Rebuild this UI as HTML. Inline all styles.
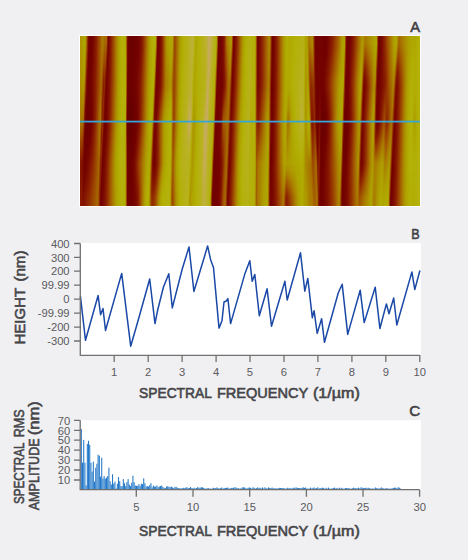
<!DOCTYPE html>
<html><head><meta charset="utf-8">
<style>
html,body{margin:0;padding:0;}
body{width:468px;height:560px;background:#f0f0f2;position:relative;overflow:hidden;font-family:"Liberation Sans",sans-serif;}
#frame{position:absolute;left:79px;top:35px;width:342px;height:172px;background:#fff;}
#afm{position:absolute;left:80px;top:36px;width:340px;height:170px;overflow:hidden;}
#afm div{position:absolute;left:0;width:340px;height:170px;}
svg{position:absolute;left:0;top:0;}
</style></head><body>
<div id="frame"></div>
<div id="afm">
<div style="background:linear-gradient(90deg,#ad9600 1.1px,#aea200 3.2px,#b0a702 5.3px,#ab8600 6.2px,#a05000 7.1px,#891b00 8.0px,#740200 8.9px,#710200 9.7px,#6f0100 10.4px,#730200 12.5px,#7f0f00 14.5px,#8c2100 16.5px,#993f00 18.6px,#a35f00 20.6px,#aa7e00 22.6px,#a66a00 24.7px,#a76d00 26.5px,#a35f00 26.7px,#902b00 27.5px,#7a0a00 28.3px,#770500 28.5px,#831300 30.1px,#8f2700 31.6px,#9b4300 33.2px,#a46100 34.8px,#aa7e00 36.4px,#ad9600 37.9px,#afa501 39.5px,#b2ae04 41.1px,#b4b00b 42.7px,#b2b005 44.2px,#b1ab03 45.7px,#a04f00 46.7px,#710200 47.8px,#6e0100 49.8px,#6a0100 51.8px,#6f0100 54.9px,#730200 58.1px,#7e0e00 61.2px,#8b1e00 62.8px,#983c00 64.3px,#a25a00 65.9px,#a97a00 67.4px,#ad9400 69.0px,#afa501 70.5px,#b1ae03 72.1px,#b4b00c 73.6px,#b3b007 75.5px,#a66900 76.5px,#770500 77.6px,#740200 79.1px,#7c0b00 80.2px,#831400 81.4px,#8f2900 82.4px,#9c4600 83.5px,#a46400 84.6px,#ab8100 85.7px,#ad9a00 86.8px,#afa301 89.2px,#b0a802 91.7px,#b0a802 92.4px,#ab8400 93.4px,#9d4900 94.3px,#9d4900 95.1px,#a56800 96.8px,#ab8500 98.5px,#ae9e00 100.1px,#b0a802 101.8px,#b2b005 103.5px,#b5b10f 105.2px,#b7b119 107.5px,#b9b223 109.9px,#bfaf3d 112.2px,#bcb131 113.7px,#b5b111 114.7px,#afa501 115.7px,#b1ab03 117.0px,#b3b008 118.9px,#b5b111 120.9px,#b7b11a 122.9px,#b9b223 124.8px,#bfb03b 126.8px,#c3ad4e 128.1px,#c7ab61 129.4px,#c3ae4d 130.8px,#beb039 132.2px,#b9b222 133.5px,#b7b118 134.8px,#b5b112 135.6px,#b4b10d 136.4px,#a66a00 137.4px,#730200 138.5px,#720200 140.6px,#7a0900 142.3px,#851700 144.1px,#994000 145.3px,#a77100 146.5px,#ab8100 147.9px,#ac8f00 149.2px,#ad9b00 151.1px,#ad9a00 151.5px,#9b4500 152.6px,#770500 153.6px,#730200 153.9px,#7f0f00 155.4px,#8c2100 156.9px,#993f00 158.4px,#a35f00 159.9px,#aa7f00 161.4px,#ad9900 163.0px,#b0a702 164.5px,#b2b004 166.0px,#b4b00c 168.0px,#b6b114 170.0px,#b6b113 170.2px,#b4b00b 171.9px,#b3b009 172.0px,#b4b00b 174.2px,#b1ac03 175.3px,#a46000 176.3px,#790800 177.4px,#790700 178.9px,#841500 180.8px,#902b00 182.7px,#9c4700 184.7px,#a56500 186.6px,#ab8100 188.5px,#ab8900 190.0px,#953600 191.1px,#730200 192.2px,#740200 193.5px,#801000 195.2px,#8d2200 197.0px,#9a4100 198.7px,#a46000 200.5px,#aa7f00 202.2px,#ad9a00 204.0px,#b0a702 205.7px,#b2b004 207.5px,#b0a902 209.8px,#b2b005 214.2px,#b4b10d 218.5px,#b6b115 222.9px,#b6b114 224.0px,#b2b004 224.7px,#aea100 225.3px,#ae9f00 225.7px,#afa601 226.7px,#afa401 227.1px,#ac9200 227.8px,#a97700 228.6px,#aa7d00 230.0px,#ac9000 232.1px,#ac8b00 232.7px,#973a00 233.9px,#740200 235.1px,#710200 235.8px,#750300 241.3px,#740200 241.8px,#700100 244.1px,#6f0100 244.6px,#730200 246.9px,#7c0b00 249.3px,#871900 251.7px,#923000 254.1px,#9e4b00 256.4px,#a56600 258.8px,#aa7d00 260.1px,#ac9100 261.5px,#aea100 262.8px,#aea000 264.6px,#994000 265.6px,#720200 266.7px,#710200 268.5px,#760400 270.4px,#821200 272.3px,#8d2400 274.2px,#994000 276.1px,#a35c00 278.0px,#a97900 279.9px,#ac9200 281.8px,#ad9a00 282.8px,#ac8c00 283.8px,#aa7e00 284.8px,#aa7b00 285.7px,#ad9400 290.5px,#afa501 295.4px,#afa401 296.6px,#9c4800 297.6px,#730200 298.6px,#730200 300.2px,#7c0b00 302.0px,#881a00 303.8px,#943300 305.6px,#a05000 307.4px,#a46100 308.9px,#a87300 310.3px,#ac8a00 312.1px,#ae9f00 313.8px,#b0a702 315.6px,#b0a702 316.2px,#ae9c00 317.2px,#ab8500 318.2px,#a56600 318.7px,#ab8300 323.3px,#ae9c00 328.0px,#b0a802 332.6px,#b0a702 335.2px,#b2af04 337.6px,#b4b00c 339.9px)"></div>
<div style="background:linear-gradient(90deg,#ad9600 1.1px,#aea100 3.1px,#b0a702 5.2px,#ab8400 6.1px,#9f4e00 7.0px,#891a00 7.9px,#730200 8.8px,#6f0100 10.3px,#730200 12.4px,#7f0f00 14.4px,#8c2000 16.4px,#993f00 18.5px,#a35e00 20.5px,#aa7e00 22.5px,#a56600 24.6px,#a66900 26.4px,#a35b00 26.5px,#8f2800 27.3px,#7a0900 28.1px,#760500 28.4px,#821300 29.9px,#8e2600 31.5px,#9a4200 33.1px,#a46000 34.7px,#aa7d00 36.3px,#ad9600 37.9px,#afa501 39.5px,#b1ae03 41.1px,#b4b00b 42.6px,#b2b005 44.2px,#b1ac03 45.7px,#a05000 46.7px,#710200 47.7px,#6e0100 49.8px,#6b0100 51.8px,#6f0100 54.9px,#730200 58.0px,#7f0f00 61.1px,#8b1f00 62.7px,#983c00 64.2px,#a25a00 65.8px,#a97900 67.3px,#ad9300 68.9px,#afa501 70.4px,#b1ae03 72.0px,#b4b00b 73.5px,#b3b007 75.4px,#a66900 76.4px,#770500 77.5px,#740200 79.0px,#7b0b00 80.1px,#831300 81.3px,#8f2700 82.4px,#9b4400 83.4px,#a46200 84.5px,#aa7f00 85.6px,#ad9800 86.7px,#afa301 89.2px,#b0a802 91.7px,#b0a602 92.3px,#ab8200 93.3px,#9d4900 94.3px,#9d4900 95.1px,#a56700 96.7px,#ab8400 98.4px,#ae9e00 100.1px,#b0a802 101.7px,#b2b005 103.4px,#b5b10f 105.1px,#b7b119 107.4px,#b9b223 109.8px,#bfaf3d 112.2px,#bcb12f 113.6px,#b5b110 114.6px,#afa501 115.6px,#b1ab03 116.9px,#b3b008 118.9px,#b5b110 120.8px,#b7b119 122.8px,#b9b222 124.7px,#beb037 126.7px,#c3ae4c 128.0px,#c7ab61 129.3px,#c3ae4c 130.7px,#beb038 132.1px,#b9b221 133.4px,#b7b118 134.7px,#b5b112 135.5px,#b4b00c 136.3px,#a66a00 137.3px,#730200 138.4px,#720200 140.5px,#790800 142.2px,#841500 144.0px,#973c00 145.2px,#a66b00 146.4px,#aa7d00 147.8px,#ac8c00 149.1px,#ad9900 151.0px,#ad9700 151.4px,#9b4300 152.5px,#770500 153.5px,#730200 153.8px,#7f0f00 155.3px,#8c2100 156.8px,#993f00 158.3px,#a35f00 159.9px,#aa7f00 161.4px,#ad9900 162.9px,#b0a702 164.4px,#b2b005 165.9px,#b4b10d 168.0px,#b6b115 170.0px,#b6b114 170.2px,#b4b00b 171.8px,#b3b00a 172.0px,#b4b00b 174.2px,#b1ac03 175.3px,#a46100 176.3px,#790800 177.3px,#780700 178.9px,#841500 180.8px,#902b00 182.7px,#9c4700 184.6px,#a56400 186.5px,#ab8100 188.5px,#ab8800 189.9px,#953500 191.1px,#730200 192.2px,#740200 193.5px,#801000 195.2px,#8c2200 196.9px,#994000 198.7px,#a35f00 200.4px,#aa7f00 202.2px,#ad9900 203.9px,#b0a702 205.7px,#b2b004 207.4px,#b0a902 209.7px,#b2b005 214.1px,#b4b10d 218.5px,#b6b116 222.8px,#b6b114 224.0px,#b2b004 224.6px,#aea100 225.3px,#ae9e00 225.7px,#afa501 226.7px,#afa401 227.2px,#ac8f00 227.9px,#a87200 228.7px,#a97800 230.1px,#ac8b00 232.2px,#ab8700 232.8px,#953600 234.0px,#740200 235.2px,#710200 235.9px,#740300 241.2px,#740200 241.8px,#700100 244.0px,#6f0100 244.5px,#730200 246.9px,#7d0c00 249.2px,#881a00 251.6px,#933200 254.0px,#9f4d00 256.3px,#a66900 258.7px,#aa7f00 260.1px,#ac9200 261.4px,#aea200 262.7px,#aea100 264.5px,#994000 265.6px,#720200 266.6px,#710200 268.5px,#760500 270.4px,#821300 272.2px,#8e2500 274.1px,#9a4100 276.0px,#a35e00 277.9px,#aa7b00 279.8px,#ad9300 281.7px,#ad9a00 282.7px,#ab8900 283.7px,#a97800 284.7px,#a87200 285.6px,#ab8600 288.8px,#ad9900 292.1px,#afa401 295.4px,#afa301 296.6px,#9c4600 297.6px,#730200 298.6px,#730200 300.1px,#7c0b00 301.9px,#871900 303.7px,#933100 305.5px,#9f4d00 307.3px,#a35f00 308.8px,#a77100 310.2px,#ab8800 312.0px,#ae9d00 313.7px,#b0a602 315.4px,#afa601 316.1px,#ad9700 317.1px,#aa7e00 318.1px,#a35f00 318.6px,#a97800 322.1px,#ac8e00 325.6px,#aea100 329.0px,#b0a802 332.5px,#b0a702 335.2px,#b2b004 337.6px,#b4b00c 339.9px);-webkit-mask-image:linear-gradient(180deg,transparent 0.0px,#000 8.5px);mask-image:linear-gradient(180deg,transparent 0.0px,#000 8.5px)"></div>
<div style="background:linear-gradient(90deg,#ad9400 1.0px,#afa501 5.0px,#a76e00 6.2px,#8e2600 7.3px,#730200 8.5px,#6f0100 10.0px,#730200 12.1px,#7f0f00 14.1px,#8b1f00 16.2px,#983d00 18.2px,#a25b00 20.2px,#aa7a00 22.3px,#a56800 23.3px,#a15500 24.4px,#a25a00 26.0px,#9f4e00 26.2px,#8b1f00 26.9px,#770600 27.7px,#740200 28.0px,#801100 29.6px,#8d2200 31.2px,#993f00 32.8px,#a35c00 34.4px,#aa7b00 36.1px,#ad9400 37.7px,#afa401 39.3px,#b1ad03 40.9px,#b4b00b 42.5px,#b2ae04 45.7px,#a05100 46.7px,#710200 47.7px,#6e0100 49.7px,#6b0100 51.7px,#6e0100 54.0px,#710200 56.3px,#760500 58.6px,#801100 61.0px,#8c2200 62.5px,#983e00 64.0px,#a25b00 65.5px,#a97900 67.1px,#ac9200 68.6px,#afa401 70.1px,#b1ac03 71.6px,#b3b009 73.2px,#b3b007 75.0px,#a66900 76.1px,#770500 77.1px,#740200 78.6px,#7a0900 79.8px,#811100 81.0px,#8d2200 82.1px,#983e00 83.2px,#a25b00 84.3px,#a97800 85.4px,#ac9100 86.5px,#aea000 89.0px,#afa501 91.5px,#afa301 92.2px,#aa7c00 93.2px,#9c4800 94.1px,#9c4700 94.9px,#a56600 96.6px,#ab8400 98.2px,#ae9e00 99.9px,#b0a802 101.5px,#b2b005 103.2px,#b5b10f 104.9px,#b7b119 107.2px,#b9b222 109.5px,#bfb03a 111.9px,#bbb228 113.3px,#b5b10f 114.3px,#afa401 115.3px,#b1ab03 116.6px,#b3b009 119.0px,#b6b113 121.5px,#b8b11d 123.9px,#bbb12b 126.4px,#c1ae46 127.7px,#c8ab61 129.0px,#c2ae4a 130.4px,#bdb033 131.7px,#b9b220 133.1px,#b6b117 134.4px,#b5b111 135.2px,#b4b00b 136.0px,#a66900 137.0px,#730200 138.0px,#720200 140.1px,#780600 141.9px,#811100 143.7px,#912e00 144.9px,#a15600 146.1px,#a76d00 147.4px,#ab8300 148.8px,#ac9000 150.7px,#ac8d00 151.1px,#983e00 152.1px,#770500 153.2px,#730200 153.5px,#7f0f00 155.0px,#8c2100 156.5px,#994000 158.1px,#a35f00 159.6px,#aa7f00 161.1px,#ad9a00 162.7px,#b0a702 164.2px,#b2b005 165.8px,#b4b10e 167.8px,#b6b117 169.9px,#b6b116 170.0px,#b4b10d 171.7px,#b4b00b 171.9px,#b4b00c 174.1px,#b1ad03 175.2px,#a46300 176.2px,#7a0900 177.3px,#780700 178.8px,#841500 180.7px,#902900 182.6px,#9b4500 184.5px,#a46200 186.4px,#aa7f00 188.3px,#ab8400 189.8px,#943300 190.9px,#730200 192.1px,#730200 193.3px,#7f0f00 195.0px,#8c2000 196.8px,#983e00 198.5px,#a35d00 200.3px,#aa7c00 202.0px,#ad9600 203.7px,#afa601 205.5px,#b2af04 207.2px,#b0a902 209.5px,#b2b006 213.9px,#b5b110 218.3px,#b7b119 222.7px,#b6b116 223.9px,#b2b005 224.6px,#aea000 225.3px,#ae9c00 225.7px,#afa401 226.9px,#afa201 227.4px,#ab8700 228.2px,#a46400 229.0px,#a56700 230.4px,#aa7b00 232.4px,#a97600 233.1px,#912c00 234.2px,#730200 235.4px,#710200 236.0px,#740200 241.1px,#730200 241.6px,#710200 243.8px,#700200 244.3px,#740200 246.6px,#801000 249.0px,#8b1f00 251.4px,#973a00 253.7px,#a15500 256.1px,#a87100 258.5px,#ac8e00 260.5px,#afa301 262.5px,#afa201 264.3px,#9a4300 265.3px,#720200 266.4px,#710200 268.2px,#770500 270.1px,#831300 272.0px,#8f2800 273.9px,#9b4400 275.7px,#a46200 277.6px,#aa8000 279.5px,#ad9900 281.4px,#ae9d00 282.4px,#ab8100 283.4px,#a46000 284.4px,#a05200 285.3px,#a77000 288.5px,#ac8b00 291.8px,#aea200 295.1px,#ae9d00 296.3px,#994000 297.3px,#730200 298.3px,#730200 299.8px,#7a0900 301.6px,#851600 303.4px,#902900 305.2px,#9a4300 307.0px,#a15500 308.4px,#a66900 309.8px,#aa8000 311.6px,#ad9400 313.3px,#afa301 315.0px,#aea100 315.6px,#ab8500 316.6px,#a46100 317.7px,#9c4700 318.2px,#a46200 321.0px,#aa7d00 323.9px,#ad9400 326.7px,#afa401 329.5px,#b1ac03 332.4px,#b0a902 335.1px,#b2b004 337.5px,#b4b00c 339.9px);-webkit-mask-image:linear-gradient(180deg,transparent 8.5px,#000 17.0px);mask-image:linear-gradient(180deg,transparent 8.5px,#000 17.0px)"></div>
<div style="background:linear-gradient(90deg,#ad9300 1.0px,#afa301 4.8px,#a66900 5.9px,#8c2100 7.1px,#720200 8.2px,#6f0100 9.7px,#730200 11.8px,#7e0e00 13.8px,#8b1d00 15.9px,#973a00 17.9px,#a25800 20.0px,#a97600 22.0px,#a35e00 23.1px,#9c4500 24.1px,#9e4b00 25.6px,#9a4200 25.8px,#881900 26.5px,#750300 27.3px,#730200 27.6px,#7f0e00 29.2px,#8b1e00 30.9px,#973b00 32.5px,#a25900 34.2px,#a97800 35.8px,#ac9200 37.5px,#afa401 39.1px,#b1ad03 40.8px,#b3b00a 42.4px,#b2b004 45.7px,#a05200 46.7px,#700200 47.7px,#6e0100 49.7px,#6b0100 51.6px,#6f0100 53.9px,#720200 56.2px,#780700 58.5px,#821300 60.8px,#8f2800 62.5px,#9c4700 64.2px,#a56800 65.9px,#ab8600 67.7px,#aea000 69.4px,#b0aa02 71.1px,#b3b008 72.8px,#b3b007 74.7px,#a66900 75.7px,#770600 76.7px,#740200 78.3px,#7f0f00 80.7px,#8a1d00 81.8px,#963800 82.9px,#a15400 84.0px,#a77100 85.1px,#ac8a00 86.2px,#ad9900 88.8px,#afa301 91.3px,#ae9c00 92.0px,#a87500 93.0px,#9c4600 94.0px,#9c4600 94.7px,#a56500 96.4px,#ab8300 98.0px,#ae9d00 99.7px,#b0a802 101.3px,#b2b006 103.0px,#b5b10f 104.6px,#b7b119 106.9px,#b9b222 109.3px,#beb037 111.6px,#bab225 113.0px,#b4b10d 114.0px,#afa301 115.0px,#b1ab03 116.3px,#b3b008 118.7px,#b5b111 121.2px,#b7b11b 123.6px,#bab224 126.1px,#c0af40 127.4px,#c8ab61 128.7px,#c2ae48 130.0px,#bcb12f 131.4px,#b8b220 132.7px,#b6b116 134.0px,#b5b110 134.8px,#b3b00a 135.6px,#a56700 136.7px,#730200 137.7px,#720200 139.8px,#760400 141.6px,#7d0d00 143.4px,#8c2000 144.5px,#9a4200 145.7px,#a35d00 147.1px,#a97a00 148.5px,#ab8800 150.4px,#ab8400 150.8px,#963800 151.8px,#770500 152.8px,#730200 153.1px,#7f0f00 154.7px,#8c2100 156.2px,#994000 157.8px,#a46000 159.4px,#aa8000 160.9px,#ad9b00 162.5px,#b0a802 164.0px,#b2b005 165.6px,#b5b10f 167.7px,#b7b118 169.7px,#b7b118 169.9px,#b4b10e 171.6px,#b4b00c 171.8px,#b4b00c 174.1px,#b2ae04 175.1px,#a56600 176.2px,#7a0a00 177.2px,#780600 178.7px,#831400 180.6px,#8f2800 182.5px,#9b4400 184.4px,#a46000 186.3px,#aa7d00 188.2px,#aa8000 189.7px,#933100 190.8px,#730200 191.9px,#730200 193.2px,#7e0e00 194.9px,#8b1e00 196.6px,#973c00 198.4px,#a25a00 200.1px,#a97a00 201.8px,#ad9400 203.5px,#afa501 205.3px,#b2ae04 207.0px,#b0a902 209.3px,#b2b004 212.7px,#b4b00c 216.0px,#b6b114 219.3px,#b8b11c 222.6px,#b7b118 223.8px,#b2b005 224.5px,#ae9f00 225.2px,#ad9a00 225.8px,#afa401 227.1px,#aea100 227.7px,#aa7f00 228.5px,#a15500 229.3px,#a15600 230.7px,#a56700 232.7px,#a46200 233.3px,#8c2100 234.4px,#730200 235.5px,#710200 236.1px,#740200 240.9px,#730200 241.4px,#720200 243.6px,#710200 244.0px,#770600 246.4px,#831400 248.8px,#8e2600 251.1px,#9a4100 253.5px,#a35d00 255.8px,#a97a00 258.2px,#ad9300 260.2px,#afa401 262.2px,#afa401 264.0px,#9c4500 265.1px,#720200 266.1px,#710200 267.9px,#770500 269.8px,#831400 271.7px,#902a00 273.6px,#9d4800 275.5px,#a56700 277.3px,#ab8400 279.2px,#ae9e00 281.1px,#aea000 282.1px,#a97900 283.1px,#9d4a00 284.1px,#943400 285.0px,#9f4f00 287.4px,#a66b00 289.9px,#ab8600 292.4px,#ae9d00 294.8px,#ad9300 296.0px,#973a00 297.0px,#730200 298.0px,#720200 299.5px,#7c0c00 301.9px,#891b00 304.2px,#963900 306.6px,#9e4c00 308.0px,#a46100 309.5px,#a97700 311.2px,#ac8b00 312.9px,#ae9d00 314.6px,#ad9700 315.2px,#a77000 316.2px,#9b4500 317.3px,#923000 317.8px,#9e4b00 320.2px,#a56800 322.6px,#ab8300 325.0px,#ad9b00 327.4px,#b0a702 329.8px,#b2af04 332.2px,#b1aa03 335.0px,#b2b005 337.5px,#b4b00c 339.9px);-webkit-mask-image:linear-gradient(180deg,transparent 17.0px,#000 25.5px);mask-image:linear-gradient(180deg,transparent 17.0px,#000 25.5px)"></div>
<div style="background:linear-gradient(90deg,#ac9200 0.9px,#aea200 4.6px,#a46300 5.7px,#8a1c00 6.8px,#710200 7.9px,#6f0100 9.4px,#730200 11.5px,#7e0e00 13.5px,#8a1c00 15.6px,#963800 17.7px,#a15500 19.7px,#a87300 21.8px,#a15300 22.8px,#953600 23.8px,#983d00 25.2px,#953600 25.4px,#841500 26.1px,#740200 26.9px,#730200 27.2px,#7d0c00 28.8px,#891b00 30.5px,#963800 32.2px,#a15500 33.9px,#a87500 35.6px,#ac9000 37.3px,#afa301 39.0px,#b1ac03 40.7px,#b3b00a 42.3px,#b2b006 45.6px,#a15400 46.6px,#700100 47.7px,#6c0100 51.5px,#6f0100 53.8px,#720200 56.1px,#790800 58.3px,#841400 60.6px,#902b00 62.3px,#9d4900 64.0px,#a56800 65.7px,#ab8500 67.4px,#ae9f00 69.1px,#b0a902 70.8px,#b3b006 72.5px,#b3b007 74.3px,#a66900 75.4px,#770600 76.4px,#730200 78.0px,#7d0d00 80.4px,#881a00 81.5px,#933200 82.6px,#9f4d00 83.7px,#a66900 84.9px,#ab8400 86.0px,#ad9300 88.6px,#aea100 91.2px,#ac9200 91.9px,#a76e00 92.9px,#9b4500 93.8px,#9b4400 94.6px,#a56400 96.2px,#ab8300 97.9px,#ae9d00 99.5px,#b0a802 101.1px,#b2b006 102.8px,#b5b110 104.4px,#b7b119 106.7px,#b9b221 109.0px,#bdb035 111.3px,#b9b223 112.7px,#b4b00c 113.7px,#afa201 114.6px,#b1ab03 116.0px,#b3b007 118.4px,#b5b110 120.8px,#b7b118 123.3px,#b9b220 125.7px,#bcb12d 126.6px,#c2ae48 127.5px,#c8ab62 128.4px,#c1ae46 129.7px,#bbb12b 131.1px,#b8b21f 132.4px,#b6b116 133.7px,#b5b10f 134.5px,#b3b009 135.3px,#a56600 136.3px,#730200 137.4px,#720200 139.5px,#790800 143.0px,#861700 144.2px,#922e00 145.4px,#9b4300 146.3px,#a25900 147.2px,#a76f00 148.1px,#aa7f00 150.0px,#a97a00 150.5px,#943300 151.5px,#770500 152.5px,#730200 152.8px,#7d0d00 154.2px,#891b00 155.6px,#953600 157.0px,#a05100 158.4px,#a76f00 159.8px,#ab8900 161.2px,#aea000 162.6px,#b0a902 164.0px,#b2b006 165.4px,#b5b110 167.5px,#b7b11a 169.6px,#b7b11a 169.8px,#b5b110 171.5px,#b4b10e 171.7px,#b4b00c 174.0px,#b2af04 175.1px,#a66800 176.1px,#7b0a00 177.2px,#770600 178.7px,#831400 180.6px,#8f2700 182.4px,#9a4200 184.3px,#a35e00 186.2px,#aa7b00 188.1px,#aa7c00 189.6px,#922f00 190.7px,#730200 191.8px,#730200 193.0px,#7d0d00 194.8px,#8a1c00 196.5px,#963a00 198.2px,#a25800 199.9px,#a97700 201.6px,#ac9200 203.3px,#afa401 205.1px,#b1ad03 206.8px,#b0a902 209.1px,#b2b005 212.5px,#b4b10e 215.8px,#b6b117 219.2px,#b9b220 222.5px,#b7b119 223.7px,#b2b006 224.5px,#ae9d00 225.2px,#ad9700 225.8px,#afa301 227.3px,#ae9e00 228.0px,#a97600 228.8px,#9c4700 229.6px,#9b4500 231.0px,#a15400 233.0px,#a04f00 233.6px,#871900 234.6px,#720200 235.7px,#710200 236.3px,#730200 240.8px,#730200 241.3px,#720200 243.3px,#720200 243.8px,#7a0a00 246.1px,#861700 248.5px,#912e00 250.9px,#9d4900 253.2px,#a56500 255.6px,#ab8100 258.0px,#ad9900 260.0px,#afa601 262.0px,#afa501 263.8px,#9d4800 264.8px,#720200 265.8px,#710200 267.7px,#770600 269.6px,#841500 271.4px,#912d00 273.3px,#9e4b00 275.2px,#a66b00 277.1px,#ab8900 278.9px,#aea100 280.8px,#aea100 281.9px,#a76f00 282.8px,#943400 283.8px,#871900 284.7px,#923000 286.7px,#9d4a00 288.6px,#a56500 290.6px,#aa8000 292.6px,#ad9600 294.5px,#ab8800 295.7px,#943300 296.7px,#730200 297.7px,#720200 299.2px,#7b0a00 301.5px,#861800 303.9px,#922f00 306.3px,#9b4300 307.7px,#a25900 309.1px,#a97800 311.6px,#ad9300 314.2px,#ac8a00 314.8px,#a25a00 315.8px,#902900 316.8px,#891a00 317.4px,#953500 319.5px,#a05100 321.6px,#a76f00 323.7px,#ac8a00 325.8px,#aea100 327.9px,#b0a902 330.0px,#b3b006 332.1px,#b1ac03 334.9px,#b3b006 337.4px,#b4b10d 339.9px);-webkit-mask-image:linear-gradient(180deg,transparent 25.5px,#000 34.0px);mask-image:linear-gradient(180deg,transparent 25.5px,#000 34.0px)"></div>
<div style="background:linear-gradient(90deg,#ac9100 0.9px,#aea000 4.3px,#a35d00 5.4px,#881900 6.5px,#710200 7.6px,#6f0100 9.1px,#730200 11.2px,#7e0d00 13.2px,#891b00 15.3px,#953600 17.4px,#a05200 19.5px,#a76f00 21.5px,#9d4a00 22.5px,#8e2600 23.5px,#922f00 24.8px,#902900 25.0px,#801000 25.7px,#730200 26.5px,#720200 26.7px,#7b0a00 28.5px,#881900 30.2px,#943400 31.9px,#a05200 33.6px,#a87200 35.4px,#ac8d00 37.1px,#afa301 38.8px,#b1ac03 40.5px,#b3b009 42.2px,#b3b008 45.6px,#a15500 46.6px,#6f0100 47.6px,#6c0100 51.5px,#6f0100 53.7px,#730200 55.9px,#7b0a00 58.2px,#851600 60.4px,#912d00 62.1px,#9d4a00 63.8px,#a56800 65.4px,#ab8400 67.1px,#ae9d00 68.8px,#b0a802 70.5px,#b2b005 72.2px,#b3b007 74.0px,#a66900 75.0px,#770600 76.0px,#730200 77.6px,#7b0a00 80.0px,#861700 81.2px,#912d00 82.3px,#9c4700 83.5px,#a46100 84.6px,#aa7d00 85.8px,#ac8c00 88.4px,#ad9b00 91.0px,#ab8700 91.7px,#a56600 92.7px,#9b4400 93.7px,#9a4300 94.4px,#a46300 96.1px,#ab8200 97.7px,#ae9d00 99.3px,#b0a802 100.9px,#b2b006 102.5px,#b5b110 104.2px,#b7b118 106.4px,#b9b221 108.7px,#bdb132 111.0px,#b9b221 112.4px,#b4b00b 113.4px,#aea100 114.3px,#b0a602 115.0px,#b1ab03 115.6px,#b3b009 118.9px,#b6b113 122.1px,#b8b11d 125.4px,#bab226 126.3px,#c1af44 127.1px,#c8ab62 128.0px,#c1af44 129.4px,#bab227 130.7px,#b8b21e 132.0px,#b6b115 133.4px,#b4b10f 134.1px,#b3b008 134.9px,#a56500 136.0px,#730200 137.0px,#720200 139.1px,#760400 142.7px,#801000 143.9px,#891b00 145.1px,#943300 146.0px,#9e4b00 146.9px,#a46400 147.8px,#a87500 149.7px,#a76e00 150.1px,#912e00 151.2px,#770600 152.2px,#730200 152.5px,#7d0d00 153.9px,#891b00 155.3px,#953600 156.7px,#a05200 158.2px,#a76f00 159.6px,#ac8a00 161.0px,#aea100 162.4px,#b0a902 163.8px,#b2b006 165.2px,#b4b10d 166.7px,#b6b114 168.1px,#b8b11c 169.5px,#b8b11c 169.7px,#b5b111 171.4px,#b5b10f 171.6px,#b4b10d 173.9px,#b2b004 175.0px,#a66b00 176.1px,#7c0b00 177.1px,#770500 178.6px,#821300 180.5px,#8e2500 182.4px,#994100 184.2px,#a35d00 186.1px,#a97900 188.0px,#a97700 189.4px,#912d00 190.6px,#740200 191.7px,#730200 192.9px,#7d0c00 194.6px,#891b00 196.3px,#963700 198.0px,#a15500 199.7px,#a87400 201.4px,#ac8f00 203.2px,#afa301 204.9px,#b1ac03 206.6px,#b0a902 208.9px,#b2b006 212.3px,#b5b110 215.7px,#b7b119 219.1px,#b9b223 222.4px,#b7b11b 223.6px,#b3b006 224.4px,#ad9b00 225.2px,#ad9500 225.8px,#aea200 227.5px,#ad9a00 228.2px,#a66c00 229.0px,#963900 229.9px,#953500 231.2px,#9a4100 233.2px,#983d00 233.8px,#831400 234.9px,#720200 235.9px,#710200 236.4px,#730200 240.7px,#730200 241.1px,#730200 243.1px,#730200 243.5px,#7d0d00 245.9px,#891b00 248.3px,#953500 250.6px,#a05100 253.0px,#a76e00 255.3px,#ab8800 257.7px,#ae9e00 259.7px,#b0a702 261.7px,#b0a702 263.5px,#9e4a00 264.5px,#720200 265.6px,#710200 267.4px,#760400 269.1px,#821200 270.7px,#8d2400 272.3px,#993f00 274.0px,#a25b00 275.6px,#a97800 277.2px,#ac9000 278.9px,#afa301 280.5px,#aea200 281.6px,#a56500 282.5px,#8b1e00 283.5px,#7b0a00 284.4px,#881900 286.4px,#943500 288.3px,#a15300 290.3px,#a87400 292.3px,#ac9000 294.3px,#aa7e00 295.5px,#912d00 296.5px,#730200 297.5px,#720200 298.9px,#790800 301.2px,#831400 303.6px,#8e2500 305.9px,#973b00 307.3px,#a05100 308.7px,#a76e00 311.2px,#ab8900 313.8px,#aa7e00 314.3px,#9b4500 315.4px,#841500 316.4px,#7f0f00 317.0px,#8b1f00 318.8px,#973c00 320.7px,#a25900 322.6px,#a97700 324.5px,#ac9100 326.3px,#afa401 328.2px,#b1ac03 330.1px,#b3b00a 332.0px,#b1ae03 334.8px,#b3b007 337.4px,#b4b10d 339.9px);-webkit-mask-image:linear-gradient(180deg,transparent 34.0px,#000 42.5px);mask-image:linear-gradient(180deg,transparent 34.0px,#000 42.5px)"></div>
<div style="background:linear-gradient(90deg,#ac8e00 0.8px,#ad9900 4.1px,#a15600 5.2px,#851600 6.2px,#700100 7.2px,#6f0100 8.8px,#730200 10.9px,#7d0c00 13.0px,#881a00 15.0px,#943400 17.1px,#a05000 19.2px,#a76e00 21.3px,#9b4400 22.2px,#8a1c00 23.2px,#8f2800 24.5px,#8d2200 24.6px,#7e0d00 25.3px,#720200 26.1px,#720200 26.3px,#790800 28.1px,#861700 29.9px,#933100 31.6px,#a05000 33.4px,#a77000 35.1px,#ac8c00 36.9px,#afa201 38.6px,#b1ac03 40.4px,#b3b009 42.2px,#b3b009 45.6px,#a15300 46.6px,#6e0100 47.6px,#6c0100 51.4px,#6f0100 53.6px,#730200 55.8px,#7b0a00 58.0px,#861700 60.2px,#922e00 61.9px,#9d4a00 63.5px,#a56700 65.2px,#ab8300 66.8px,#ad9b00 68.5px,#b0a702 70.2px,#b2af04 71.8px,#b2b006 73.6px,#a66800 74.6px,#780700 75.7px,#730200 77.3px,#7c0b00 79.7px,#861800 80.9px,#912d00 82.1px,#9c4700 83.2px,#a46100 84.4px,#aa7c00 85.5px,#ac8c00 88.2px,#ae9c00 90.8px,#ab8600 91.6px,#a56600 92.6px,#9b4400 93.5px,#9a4200 94.3px,#a35d00 95.7px,#a97900 97.0px,#ac9100 98.4px,#afa301 99.8px,#b1ab03 101.2px,#b3b008 102.5px,#b5b110 103.9px,#b7b119 106.2px,#b9b222 108.4px,#bdb035 110.7px,#b9b221 112.1px,#b4b00b 113.1px,#aea100 114.0px,#afa501 114.7px,#b1aa03 115.3px,#b3b008 118.6px,#b5b112 121.8px,#b8b11c 125.1px,#bab225 125.9px,#c1af43 126.8px,#c8ab63 127.7px,#c1af43 129.0px,#bab225 130.4px,#b8b11d 131.7px,#b6b115 133.0px,#b4b10e 133.8px,#b3b008 134.6px,#a56500 135.6px,#740200 136.7px,#720200 138.8px,#740200 142.3px,#7d0d00 143.5px,#871800 144.7px,#912c00 145.6px,#9b4400 146.6px,#a35d00 147.5px,#a76e00 149.4px,#a56600 149.8px,#902a00 150.8px,#770600 151.9px,#730200 152.2px,#7e0d00 153.6px,#8a1b00 155.1px,#953700 156.5px,#a15300 157.9px,#a77100 159.3px,#ac8b00 160.8px,#aea100 162.2px,#b0aa02 163.6px,#b3b007 165.1px,#b4b10e 166.5px,#b6b116 167.9px,#b8b11d 169.4px,#b8b11d 169.5px,#b6b117 170.4px,#b5b111 171.3px,#b4b10e 171.5px,#b4b10d 173.8px,#b2b005 174.9px,#a76e00 176.0px,#7e0d00 177.0px,#780700 178.5px,#831400 180.4px,#8f2800 182.3px,#9a4300 184.1px,#a35f00 186.0px,#aa7c00 187.9px,#a97700 189.3px,#912d00 190.4px,#740200 191.5px,#730200 192.8px,#7c0c00 194.5px,#891a00 196.2px,#953600 197.9px,#a15300 199.6px,#a87200 201.3px,#ac8d00 203.0px,#afa201 204.7px,#b1ab03 206.4px,#b0a602 208.7px,#b2af04 211.4px,#b4b00b 214.2px,#b6b114 216.9px,#b8b11d 219.6px,#bab226 222.3px,#b8b11d 223.5px,#b3b007 224.3px,#ad9b00 225.2px,#ad9400 225.9px,#afa201 227.7px,#ad9a00 228.5px,#a56600 229.3px,#922e00 230.2px,#8f2800 231.5px,#953500 233.5px,#922f00 234.1px,#7f0f00 235.1px,#720200 236.1px,#710200 236.6px,#730200 240.5px,#730200 240.9px,#730200 242.8px,#730200 243.3px,#7d0c00 245.7px,#891b00 248.0px,#953600 250.4px,#a15300 252.7px,#a87200 255.1px,#ac8c00 257.5px,#aea000 259.5px,#b0a802 261.5px,#b0a702 263.3px,#9e4a00 264.3px,#720200 265.3px,#710200 267.2px,#750300 268.8px,#811100 270.4px,#8d2300 272.1px,#993f00 273.7px,#a35b00 275.3px,#a97900 277.0px,#ac9200 278.6px,#afa301 280.2px,#aea200 281.3px,#a35c00 282.2px,#841500 283.2px,#740200 284.1px,#7f0f00 285.8px,#8b1d00 287.4px,#963900 289.1px,#a15600 290.7px,#a87300 292.3px,#ac8d00 294.0px,#a97900 295.2px,#902b00 296.2px,#730200 297.2px,#720200 298.6px,#780700 300.9px,#821300 303.2px,#8d2200 305.5px,#953500 306.9px,#9d4800 308.3px,#a56500 310.8px,#ab8100 313.3px,#a87300 313.9px,#953600 315.0px,#7c0b00 316.0px,#780700 316.6px,#841500 318.3px,#902a00 319.9px,#9c4700 321.6px,#a56400 323.3px,#ab8100 325.0px,#ad9900 326.7px,#b0a602 328.4px,#b2af04 330.1px,#b4b00c 331.8px,#b3b007 333.3px,#b1ae03 334.7px,#b3b007 337.3px,#b4b10d 339.9px);-webkit-mask-image:linear-gradient(180deg,transparent 42.5px,#000 51.0px);mask-image:linear-gradient(180deg,transparent 42.5px,#000 51.0px)"></div>
<div style="background:linear-gradient(90deg,#ac8a00 0.8px,#ac8f00 3.9px,#9e4a00 4.9px,#811100 5.9px,#6f0100 6.9px,#6d0100 8.5px,#720200 10.6px,#7a0900 12.7px,#871800 14.8px,#943300 16.9px,#a05200 18.9px,#a87200 21.0px,#9c4600 22.0px,#8a1c00 22.9px,#912c00 24.1px,#8d2400 24.2px,#7e0e00 24.9px,#720200 25.7px,#710200 25.9px,#780700 27.7px,#851600 29.5px,#923000 31.3px,#9f4f00 33.1px,#a76f00 34.9px,#ac8c00 36.7px,#afa301 38.5px,#b1ac03 40.3px,#b3b00a 42.1px,#b3b009 45.5px,#9e4b00 46.6px,#6c0100 47.6px,#6a0100 51.3px,#6e0100 53.5px,#720200 55.7px,#790800 57.8px,#851600 60.0px,#912c00 61.7px,#9d4800 63.3px,#a56600 64.9px,#ab8200 66.6px,#ad9a00 68.2px,#b0a702 69.9px,#b2af04 71.5px,#b2b004 73.2px,#a56600 74.3px,#790800 75.3px,#740200 76.9px,#7a0900 78.2px,#811200 79.4px,#8c2000 80.6px,#963900 81.8px,#a15300 83.0px,#a76d00 84.1px,#ab8600 85.3px,#ad9900 88.0px,#afa501 90.7px,#ad9900 91.4px,#a87300 92.4px,#9c4600 93.4px,#994000 94.1px,#a35c00 95.5px,#a97900 96.9px,#ac9100 98.2px,#afa301 99.6px,#b1ab03 101.0px,#b3b008 102.3px,#b5b111 103.7px,#b7b11a 105.9px,#bab224 108.2px,#c0af41 110.4px,#bab226 111.8px,#b4b10d 112.8px,#aea000 113.7px,#b0a602 115.0px,#b2af04 117.4px,#b4b10d 119.9px,#b6b116 122.3px,#b8b21f 124.7px,#bbb12c 125.6px,#c2ae48 126.5px,#c8ab65 127.4px,#c1af43 128.7px,#bab225 130.1px,#b8b11d 131.4px,#b6b115 132.7px,#b5b110 133.5px,#b3b00a 134.3px,#a66900 135.3px,#740200 136.4px,#720200 138.4px,#760400 142.0px,#821300 143.2px,#8e2600 144.4px,#9a4200 145.8px,#a35e00 147.1px,#a76e00 149.0px,#a56400 149.5px,#902b00 150.5px,#790800 151.6px,#740200 151.9px,#7f0f00 153.3px,#8b1e00 154.8px,#973a00 156.2px,#a15600 157.7px,#a87400 159.1px,#ac8e00 160.6px,#afa201 162.0px,#b1ab03 163.4px,#b3b008 164.9px,#b5b10f 166.3px,#b6b117 167.8px,#b8b21e 169.2px,#b8b11d 169.4px,#b6b115 170.3px,#b4b10e 171.2px,#b4b00a 171.4px,#b4b00c 173.8px,#b2b005 174.9px,#a87300 175.9px,#821200 177.0px,#7c0b00 178.5px,#871900 180.3px,#933100 182.2px,#9e4c00 184.0px,#a66900 185.9px,#ab8400 187.8px,#aa7e00 189.2px,#933200 190.3px,#740200 191.4px,#730200 192.6px,#7c0c00 194.3px,#891a00 196.0px,#953600 197.7px,#a15300 199.4px,#a87200 201.1px,#ac8d00 202.8px,#afa201 204.5px,#b1ab03 206.2px,#afa601 207.3px,#aea000 208.5px,#b0a802 210.8px,#b2b005 213.1px,#b4b10e 215.4px,#b6b116 217.7px,#b8b21f 220.0px,#bcb12d 222.2px,#b9b220 223.4px,#b3b009 224.3px,#ae9c00 225.1px,#ad9300 225.9px,#aea100 226.9px,#afa601 227.9px,#aea100 228.7px,#a66900 229.6px,#8f2900 230.5px,#8c2100 231.8px,#943300 233.7px,#902b00 234.3px,#7e0e00 235.3px,#710200 236.2px,#700100 236.7px,#720200 238.5px,#760400 240.4px,#740200 240.7px,#700200 242.6px,#700100 243.1px,#740200 245.1px,#7f0f00 247.1px,#8b1e00 249.1px,#963a00 251.1px,#a15500 253.2px,#a87300 255.2px,#ac8c00 257.2px,#aea000 259.2px,#b0a702 261.2px,#afa601 263.0px,#9b4500 264.0px,#710200 265.1px,#700100 266.9px,#740200 268.5px,#7e0e00 270.2px,#8a1d00 271.8px,#963900 273.4px,#a15500 275.0px,#a87300 276.7px,#ac8d00 278.3px,#aea200 279.9px,#ae9e00 281.0px,#a15600 281.9px,#831400 282.9px,#740200 283.8px,#801000 285.5px,#8c2100 287.1px,#983e00 288.8px,#a35b00 290.4px,#a97a00 292.1px,#ad9300 293.7px,#ab8100 294.9px,#923000 295.9px,#730200 296.9px,#720200 298.3px,#790800 300.6px,#861700 302.9px,#922e00 305.2px,#983e00 307.9px,#a35e00 310.4px,#aa7e00 312.9px,#a76f00 313.5px,#943300 314.5px,#7b0b00 315.6px,#770500 316.1px,#831400 317.9px,#8f2800 319.6px,#9b4500 321.3px,#a46300 323.0px,#aa8000 324.8px,#ad9900 326.5px,#b0a602 328.2px,#b2af04 329.9px,#b4b10d 331.7px,#b2b005 333.2px,#b0aa02 334.7px,#b2b006 337.3px,#b4b10e 339.9px);-webkit-mask-image:linear-gradient(180deg,transparent 51.0px,#000 59.5px);mask-image:linear-gradient(180deg,transparent 51.0px,#000 59.5px)"></div>
<div style="background:linear-gradient(90deg,#ab8600 0.8px,#ab8400 3.7px,#994000 4.7px,#7c0c00 5.6px,#6d0100 6.6px,#6c0100 8.2px,#700100 10.0px,#740200 11.8px,#7f0f00 13.6px,#8b1f00 15.4px,#973c00 17.2px,#a25900 19.0px,#a97700 20.8px,#9d4800 21.7px,#8a1b00 22.6px,#933100 23.7px,#8e2600 23.8px,#7e0e00 24.5px,#720200 25.3px,#710200 25.5px,#760400 27.2px,#821200 28.8px,#8e2500 30.5px,#9a4100 32.1px,#a35e00 33.7px,#aa7c00 35.4px,#ad9500 37.0px,#afa501 38.7px,#b1ad03 40.3px,#b4b00b 42.0px,#b3b008 45.5px,#9b4300 46.5px,#6a0100 47.6px,#680000 51.2px,#6c0100 53.4px,#710200 55.5px,#770600 57.7px,#841500 59.8px,#902b00 61.4px,#9c4700 63.1px,#a56400 64.7px,#ab8100 66.3px,#ad9900 67.9px,#b0a602 69.5px,#b2af04 71.2px,#b1ae03 72.9px,#a56400 73.9px,#7a0900 74.9px,#740200 76.6px,#7d0d00 77.9px,#871800 79.1px,#943300 80.6px,#a15200 82.1px,#a87300 83.6px,#ac9000 85.1px,#afa201 87.8px,#b1ab03 90.5px,#afa401 91.3px,#aa7f00 92.3px,#9d4800 93.2px,#993f00 94.0px,#a35c00 95.3px,#a97900 96.7px,#ac9100 98.0px,#afa301 99.4px,#b1ac03 100.7px,#b3b008 102.1px,#b5b111 103.5px,#b7b119 105.1px,#b9b221 106.8px,#bdb131 108.5px,#c3ae4d 110.1px,#bdb035 111.5px,#b5b10f 112.5px,#aea000 113.4px,#afa301 114.7px,#b1ab03 116.6px,#b3b008 118.6px,#b5b111 120.5px,#b7b11a 122.5px,#b9b223 124.4px,#bdb034 125.3px,#c3ad4e 126.2px,#c9ab67 127.0px,#c3ad4f 127.9px,#beb037 128.8px,#bab224 129.7px,#b8b11d 131.0px,#b6b115 132.3px,#b4b00c 133.9px,#a66c00 135.0px,#740200 136.0px,#720200 138.1px,#780700 141.7px,#871800 142.9px,#963700 144.1px,#9e4b00 145.4px,#a35f00 146.8px,#a76f00 148.7px,#a46200 149.1px,#912c00 150.2px,#7a0900 151.2px,#740200 151.6px,#801000 153.0px,#8c2000 154.5px,#983d00 155.9px,#a25a00 157.4px,#a97800 158.9px,#ac9100 160.3px,#afa301 161.8px,#b1ac03 163.3px,#b3b009 164.7px,#b5b111 166.2px,#b7b118 167.6px,#b8b21f 169.1px,#b8b11d 169.3px,#b6b114 170.2px,#b4b00b 171.1px,#b3b007 171.3px,#b4b00b 173.7px,#b2b005 174.8px,#a97800 175.9px,#861700 176.9px,#7f0f00 178.4px,#8b1e00 180.2px,#973a00 182.1px,#a15600 184.0px,#a87300 185.8px,#ac8c00 187.7px,#ab8400 189.1px,#953600 190.2px,#750300 191.3px,#730200 192.5px,#7c0c00 194.2px,#891a00 195.8px,#953600 197.5px,#a15300 199.2px,#a87200 200.9px,#ac8d00 202.6px,#afa201 204.3px,#b1ab03 206.0px,#afa301 207.1px,#ac8f00 208.3px,#afa201 210.3px,#b1ab03 212.3px,#b3b007 214.2px,#b5b110 216.2px,#b7b119 218.2px,#b9b221 220.2px,#bdb034 222.1px,#b9b223 223.3px,#b4b00b 224.2px,#ae9d00 225.1px,#ad9300 225.9px,#afa201 227.0px,#b0a902 228.1px,#afa401 229.0px,#a66c00 229.9px,#8d2400 230.8px,#891b00 232.1px,#933200 234.0px,#8f2700 234.6px,#7c0c00 235.5px,#710200 236.4px,#6f0100 236.8px,#720200 238.5px,#790800 240.2px,#760400 240.6px,#710200 241.5px,#6e0100 242.4px,#6d0100 242.8px,#710200 244.8px,#790800 246.9px,#861700 248.9px,#933100 250.9px,#a04f00 252.9px,#a76f00 254.9px,#ac8c00 257.0px,#aea000 259.0px,#b0a702 260.9px,#afa401 262.7px,#994000 263.8px,#700200 264.8px,#6f0100 266.6px,#730200 268.3px,#7c0b00 269.9px,#881900 271.5px,#943300 273.1px,#a04f00 274.8px,#a76d00 276.4px,#ab8800 278.0px,#aea000 279.6px,#ad9700 280.7px,#a05000 281.6px,#811200 282.6px,#750400 283.5px,#821200 285.2px,#8e2600 286.8px,#9a4300 288.5px,#a46100 290.1px,#aa7f00 291.8px,#ad9800 293.4px,#ab8800 294.7px,#943400 295.6px,#730200 296.6px,#720200 298.0px,#770600 299.7px,#821200 301.4px,#8c2100 303.1px,#973a00 304.8px,#943400 307.6px,#9e4b00 309.2px,#a46200 310.9px,#aa7a00 312.5px,#a66a00 313.1px,#933000 314.1px,#7b0a00 315.2px,#760400 315.7px,#821200 317.5px,#8e2600 319.2px,#9b4400 321.0px,#a46200 322.8px,#aa8000 324.5px,#ad9900 326.3px,#b0a702 328.0px,#b2b004 329.8px,#b4b10d 331.5px,#b2af04 333.0px,#afa601 334.6px,#b1ad03 336.3px,#b3b008 338.1px,#b5b10f 339.9px);-webkit-mask-image:linear-gradient(180deg,transparent 59.5px,#000 68.0px);mask-image:linear-gradient(180deg,transparent 59.5px,#000 68.0px)"></div>
<div style="background:linear-gradient(90deg,#ab8100 0.7px,#a97a00 3.5px,#943500 4.4px,#780700 5.4px,#6c0100 6.3px,#6a0100 7.9px,#6f0100 9.7px,#730200 11.5px,#7d0d00 13.3px,#8a1d00 15.1px,#973b00 16.9px,#a25b00 18.7px,#aa7b00 20.5px,#9d4a00 21.4px,#891b00 22.3px,#953500 23.3px,#8f2800 23.4px,#7e0e00 24.2px,#720200 24.9px,#700200 25.1px,#740300 26.8px,#811100 28.5px,#8d2300 30.2px,#994000 31.8px,#a35d00 33.5px,#aa7c00 35.2px,#ad9500 36.8px,#afa501 38.5px,#b1ae03 40.2px,#b4b00b 41.9px,#b3b007 45.5px,#973c00 46.5px,#680100 47.5px,#660000 51.2px,#6a0100 52.9px,#6e0100 54.6px,#720200 56.3px,#780700 57.9px,#841400 59.6px,#902900 61.2px,#9c4500 62.8px,#a46300 64.4px,#aa8000 66.0px,#ad9800 67.6px,#b0a602 69.2px,#b2af04 70.8px,#b1ac03 72.5px,#a46200 73.6px,#7b0b00 74.6px,#750300 76.3px,#801100 77.5px,#8c2100 78.8px,#994000 80.3px,#a35f00 81.8px,#aa7f00 83.3px,#ad9a00 84.8px,#b0a702 87.6px,#b2b005 90.4px,#b1ab03 91.1px,#ab8900 92.1px,#9e4b00 93.1px,#993e00 93.8px,#a25b00 95.2px,#a97800 96.5px,#ac9100 97.8px,#afa301 99.2px,#b1ac03 100.5px,#b3b009 101.9px,#b5b112 103.2px,#b7b11b 104.9px,#b9b223 106.5px,#bfb03b 108.2px,#c6ac59 109.8px,#c1af44 111.2px,#b5b111 112.2px,#ae9f00 113.1px,#ae9c00 114.4px,#b0a702 116.0px,#b2af04 117.6px,#b4b00c 119.2px,#b6b115 120.9px,#b8b11d 122.5px,#bab226 124.1px,#c2ae48 125.4px,#c9aa69 126.7px,#c4ad50 127.6px,#beb037 128.5px,#b9b224 129.4px,#b8b11d 130.7px,#b6b116 132.0px,#b4b10e 133.6px,#a77000 134.6px,#740200 135.7px,#720200 137.8px,#740200 139.6px,#7a0900 141.3px,#8c2000 142.5px,#9d4900 143.7px,#a46100 146.5px,#a76f00 148.4px,#a46000 148.8px,#912c00 149.9px,#7b0a00 150.9px,#750300 151.2px,#811100 152.7px,#8d2300 154.2px,#994000 155.7px,#a35d00 157.2px,#aa7b00 158.6px,#ad9400 160.1px,#afa501 161.6px,#b1ad03 163.1px,#b4b00a 164.5px,#b5b112 166.0px,#b7b119 167.5px,#b9b220 169.0px,#b8b11c 169.2px,#b5b112 170.1px,#b3b007 171.0px,#b2af04 171.2px,#b4b00b 173.6px,#b2b005 174.8px,#aa7d00 175.8px,#891b00 176.9px,#831400 178.3px,#8f2700 180.2px,#9a4300 182.0px,#a35f00 183.9px,#aa7c00 185.7px,#ad9400 187.5px,#ab8900 189.0px,#973b00 190.0px,#760400 191.1px,#730200 192.3px,#7c0c00 194.0px,#891a00 195.7px,#953600 197.4px,#a15300 199.0px,#a87200 200.7px,#ac8d00 202.4px,#afa201 204.1px,#b1ab03 205.8px,#ae9e00 206.9px,#aa7e00 208.1px,#ad9800 210.1px,#b0a702 212.1px,#b2b004 214.1px,#b4b10e 216.1px,#b7b118 218.1px,#b9b222 220.1px,#bfb03c 222.1px,#bab227 223.3px,#b4b00c 224.2px,#ae9f00 225.1px,#ad9300 226.0px,#afa401 227.1px,#b1ac03 228.3px,#b0a702 229.2px,#a76f00 230.1px,#8b1f00 231.1px,#861700 232.4px,#923000 234.3px,#8d2300 234.8px,#7b0a00 235.7px,#700200 236.6px,#6e0100 237.0px,#730200 238.5px,#7d0c00 240.1px,#780700 240.4px,#710200 241.2px,#6c0100 242.1px,#6a0100 242.6px,#6e0100 244.3px,#720200 246.1px,#7b0b00 247.9px,#881900 249.6px,#943400 251.4px,#a05100 253.2px,#a77000 254.9px,#ac8c00 256.7px,#ae9f00 258.7px,#b0a702 260.7px,#afa301 262.5px,#973b00 263.5px,#700100 264.5px,#6e0100 266.4px,#720200 268.0px,#790800 269.6px,#851600 271.2px,#912d00 272.9px,#9d4900 274.5px,#a56700 276.1px,#ab8300 277.7px,#ae9c00 279.3px,#ac9000 280.4px,#9e4b00 281.4px,#801000 282.3px,#770500 283.2px,#831400 284.9px,#902a00 286.5px,#9c4800 288.2px,#a56700 289.9px,#ab8400 291.5px,#ae9e00 293.2px,#ac8f00 294.4px,#963900 295.4px,#730200 296.3px,#710200 297.7px,#780600 299.4px,#841500 301.1px,#902900 302.8px,#9c4500 304.5px,#902a00 307.2px,#9a4200 308.8px,#a35c00 310.4px,#a97600 312.1px,#a56600 312.6px,#912e00 313.7px,#7a0900 314.7px,#740200 315.3px,#811100 317.1px,#8d2400 318.9px,#9a4200 320.7px,#a46100 322.5px,#aa8000 324.3px,#ad9900 326.0px,#b0a702 327.8px,#b2b004 329.6px,#b4b10e 331.4px,#b2b006 332.4px,#b0aa02 333.4px,#aea200 334.5px,#b1aa03 336.3px,#b3b007 338.1px,#b5b110 339.9px);-webkit-mask-image:linear-gradient(180deg,transparent 68.0px,#000 76.5px);mask-image:linear-gradient(180deg,transparent 68.0px,#000 76.5px)"></div>
<div style="background:linear-gradient(90deg,#aa7d00 0.7px,#a76d00 3.3px,#902a00 4.2px,#740200 5.1px,#6b0100 6.0px,#690100 7.5px,#6d0100 9.1px,#710200 10.7px,#760500 12.3px,#821300 13.9px,#8f2700 15.5px,#9b4300 17.1px,#a46100 18.7px,#aa7f00 20.3px,#9e4b00 21.2px,#891b00 22.0px,#973a00 22.9px,#902a00 23.0px,#7f0f00 23.8px,#720200 24.5px,#700100 24.7px,#740200 26.4px,#801000 28.1px,#8c2100 29.8px,#993f00 31.5px,#a35d00 33.2px,#aa7c00 34.9px,#ad9500 36.7px,#afa501 38.4px,#b2ae04 40.1px,#b4b00c 41.8px,#b3b007 45.4px,#943400 46.5px,#670000 47.5px,#640000 51.1px,#680100 52.8px,#6d0100 54.4px,#710200 56.1px,#760500 57.8px,#831300 59.5px,#8f2700 61.0px,#9b4400 62.6px,#a46100 64.2px,#aa7f00 65.8px,#ad9700 67.3px,#afa601 68.9px,#b2af04 70.5px,#b0aa02 72.2px,#a46000 73.2px,#7c0c00 74.2px,#760400 75.9px,#7f0f00 76.8px,#881a00 77.6px,#912e00 78.5px,#9e4c00 80.0px,#a66c00 81.6px,#ab8900 83.1px,#aea100 84.6px,#b0a802 86.5px,#b2af04 88.3px,#b4b00b 90.2px,#b2b006 91.0px,#ad9300 92.0px,#9f4d00 93.0px,#983d00 93.7px,#a25a00 95.0px,#a97800 96.3px,#ac9100 97.7px,#afa301 99.0px,#b1ac03 100.3px,#b3b009 101.7px,#b5b112 103.0px,#b8b11c 104.6px,#bab225 106.3px,#c1af44 107.9px,#c8ab65 109.5px,#c4ad53 110.9px,#b5b113 111.8px,#ae9f00 112.8px,#ac9200 114.1px,#afa401 115.7px,#b1ae03 117.3px,#b4b00c 118.9px,#b6b116 120.5px,#b8b220 122.2px,#bdb132 123.8px,#c3ad4f 125.1px,#caaa6b 126.4px,#c4ad51 127.3px,#beb036 128.2px,#b9b223 129.1px,#b8b11c 130.4px,#b6b116 131.7px,#b5b111 133.2px,#a87300 134.3px,#740200 135.3px,#710200 137.4px,#740200 139.2px,#7c0b00 141.0px,#902b00 142.2px,#a35b00 143.4px,#a46200 146.1px,#a76f00 148.1px,#a35f00 148.5px,#912d00 149.5px,#7c0c00 150.6px,#760400 150.9px,#821200 152.4px,#8e2600 153.9px,#9a4200 155.4px,#a46000 156.9px,#aa7e00 158.4px,#ad9700 159.9px,#afa601 161.4px,#b2ae04 162.9px,#b4b00c 164.4px,#b6b113 165.9px,#b7b11a 167.4px,#b9b221 168.9px,#b8b11c 169.0px,#b5b110 170.0px,#b2b004 170.9px,#b1ab03 171.1px,#b2b004 172.3px,#b3b00a 173.5px,#b2b005 174.7px,#ab8100 175.7px,#8d2400 176.8px,#871800 178.3px,#933000 180.1px,#9e4c00 181.9px,#a66900 183.8px,#ab8500 185.6px,#ae9d00 187.4px,#ac8f00 188.8px,#993f00 189.9px,#770500 191.0px,#730200 192.2px,#7c0c00 193.9px,#891a00 195.5px,#953600 197.2px,#a15300 198.9px,#a87100 200.5px,#ac8c00 202.2px,#aea200 203.9px,#b1ab03 205.5px,#ad9500 206.7px,#a66900 207.9px,#ab8600 209.7px,#aea000 211.4px,#b0a902 213.2px,#b3b007 214.9px,#b5b111 216.7px,#b7b11b 218.4px,#bab225 220.2px,#c1af43 222.0px,#bdb131 223.2px,#b4b10e 224.1px,#aea000 225.0px,#ac9200 226.0px,#aea200 226.8px,#b0a902 227.6px,#b2af04 228.5px,#b1aa03 229.5px,#a87200 230.4px,#891b00 231.4px,#831400 232.7px,#8a1d00 233.6px,#922e00 234.5px,#8b1f00 235.1px,#790800 235.9px,#700100 236.8px,#6e0100 237.1px,#710200 238.1px,#760400 239.0px,#801100 239.9px,#7a0900 240.2px,#700100 241.0px,#690100 241.9px,#670000 242.3px,#6b0100 243.9px,#6f0100 245.5px,#730200 247.0px,#7d0d00 248.6px,#891b00 250.2px,#953700 251.7px,#a15300 253.3px,#a87100 254.9px,#ac8c00 256.5px,#ae9e00 258.4px,#b0a602 260.4px,#aea100 262.2px,#953600 263.3px,#6f0100 264.3px,#6d0100 266.1px,#710200 267.7px,#760500 269.3px,#831300 271.0px,#8f2700 272.6px,#9b4300 274.2px,#a46100 275.8px,#aa7e00 277.4px,#ad9700 279.1px,#ac8a00 280.1px,#9b4500 281.1px,#7f0f00 282.0px,#780700 282.9px,#851600 284.6px,#922e00 286.3px,#9e4c00 287.9px,#a66c00 289.6px,#ac8a00 291.2px,#aea100 292.9px,#ad9600 294.1px,#983d00 295.1px,#730200 296.1px,#710200 297.4px,#760400 298.8px,#801100 300.1px,#8b1f00 301.5px,#963800 302.8px,#a05100 304.1px,#963800 305.5px,#8b1f00 306.8px,#973a00 308.4px,#a15600 310.0px,#a87200 311.7px,#a46200 312.2px,#902b00 313.3px,#790800 314.3px,#740200 314.9px,#801000 316.7px,#8d2200 318.6px,#994000 320.4px,#a46000 322.2px,#aa7f00 324.0px,#ad9900 325.8px,#b0a702 327.6px,#b2b004 329.4px,#b4b10e 331.2px,#b2b004 332.3px,#b0a702 333.3px,#ad9a00 334.4px,#afa501 335.8px,#b1ad03 337.1px,#b3b009 338.5px,#b5b111 339.9px);-webkit-mask-image:linear-gradient(180deg,transparent 76.5px,#000 85.0px);mask-image:linear-gradient(180deg,transparent 76.5px,#000 85.0px)"></div>
<div style="background:linear-gradient(90deg,#a56700 0.6px,#a25900 3.1px,#8c2000 3.9px,#740200 4.8px,#6c0100 5.7px,#6b0100 7.2px,#6f0100 9.1px,#730200 10.9px,#7e0e00 12.7px,#8b1e00 14.6px,#983c00 16.4px,#a35b00 18.2px,#aa7b00 20.0px,#9d4a00 20.9px,#891b00 21.7px,#953600 22.6px,#8f2900 22.6px,#7f0e00 23.4px,#720200 24.1px,#700100 24.3px,#740200 26.1px,#811100 27.8px,#8d2400 29.5px,#9a4100 31.3px,#a46000 33.0px,#aa7e00 34.7px,#ad9800 36.5px,#b0a602 38.2px,#b2af04 39.9px,#b4b10d 41.7px,#b3b007 45.4px,#973b00 46.4px,#680100 47.5px,#660000 51.0px,#6a0100 52.7px,#6e0100 54.3px,#720200 56.0px,#7a0a00 57.6px,#871800 59.3px,#922f00 60.8px,#9d4a00 62.4px,#a56600 63.9px,#ab8100 65.5px,#ad9800 67.0px,#afa601 68.6px,#b1ae03 70.1px,#b0a802 71.8px,#a35d00 72.8px,#7d0c00 73.9px,#750300 75.6px,#821200 76.9px,#8f2800 78.2px,#9a4100 79.4px,#a25b00 80.7px,#a87500 81.9px,#ac8c00 83.1px,#aea100 84.4px,#b0a802 86.3px,#b2af04 88.1px,#b4b00b 90.0px,#b3b007 90.8px,#ad9700 91.8px,#a05100 92.8px,#9a4200 93.5px,#a35f00 94.8px,#aa7d00 96.2px,#ad9500 97.5px,#afa501 98.8px,#b1ad03 100.1px,#b4b00b 101.4px,#b6b114 102.7px,#b8b11c 104.4px,#b9b224 106.0px,#bfb03a 107.6px,#c5ad56 109.3px,#c1af43 110.6px,#b5b111 111.5px,#aea000 112.5px,#ac9200 113.8px,#afa401 115.4px,#b1ae03 117.0px,#b4b00b 118.6px,#b6b115 120.2px,#b8b21f 121.8px,#bcb130 123.4px,#c3ae4d 124.7px,#c9aa6a 126.0px,#c4ad50 126.9px,#beb036 127.8px,#b9b223 128.7px,#b8b11c 130.0px,#b6b116 131.3px,#b4b10e 132.9px,#a76f00 133.9px,#730200 135.0px,#720200 137.1px,#740200 138.9px,#7b0a00 140.7px,#8c2100 141.9px,#9e4b00 143.1px,#a35d00 145.8px,#a76e00 147.7px,#a46100 148.1px,#912d00 149.2px,#7b0b00 150.3px,#750300 150.6px,#821200 152.1px,#8e2600 153.6px,#9b4300 155.1px,#a46200 156.7px,#aa8000 158.2px,#ad9900 159.7px,#b0a702 161.2px,#b2b004 162.7px,#b4b10d 164.2px,#b6b117 166.5px,#b9b220 168.7px,#b8b11c 168.9px,#b5b111 169.9px,#b2b005 170.8px,#b1ad03 171.0px,#b4b00a 173.4px,#b2b006 174.6px,#ab8700 175.7px,#922f00 176.7px,#8e2600 178.2px,#9b4500 180.5px,#a56600 182.7px,#ab8500 185.0px,#ae9f00 187.3px,#ad9400 188.7px,#9a4100 189.8px,#760500 190.9px,#730200 192.1px,#7c0c00 193.7px,#881a00 195.4px,#943400 197.0px,#a05000 198.7px,#a76e00 200.4px,#ab8900 202.0px,#aea100 203.7px,#b0a902 205.3px,#ad9700 206.5px,#a87300 207.7px,#ac8e00 209.7px,#afa301 211.7px,#b1ac03 213.8px,#b3b009 215.8px,#b5b113 217.8px,#b8b11c 219.8px,#bab226 221.9px,#b9b221 223.1px,#b3b00a 224.0px,#ae9d00 225.0px,#ac9000 226.0px,#afa201 227.3px,#b0aa02 228.7px,#afa601 229.8px,#a76e00 230.7px,#8d2200 231.7px,#891a00 232.9px,#8f2900 233.9px,#963900 234.8px,#912c00 235.3px,#7f0f00 236.1px,#720200 236.9px,#700100 237.3px,#730200 238.1px,#7a0900 238.9px,#831400 239.8px,#7d0d00 240.0px,#710200 240.8px,#6b0100 241.6px,#690100 242.1px,#6d0100 243.8px,#710200 245.6px,#770600 247.4px,#841500 249.1px,#902b00 250.9px,#9d4800 252.7px,#a56700 254.4px,#ab8500 256.2px,#ad9800 258.2px,#afa401 260.2px,#aea000 262.0px,#953500 263.0px,#6f0100 264.0px,#6e0100 265.8px,#710200 267.5px,#780600 269.1px,#831400 270.7px,#8f2800 272.3px,#9b4400 273.9px,#a46000 275.5px,#aa7d00 277.1px,#ad9500 278.8px,#ac8a00 279.8px,#9b4500 280.8px,#7e0d00 281.7px,#770600 282.6px,#841500 284.3px,#912c00 286.0px,#9d4a00 287.6px,#a66900 289.3px,#ab8700 291.0px,#aea000 292.6px,#ad9800 293.9px,#9e4c00 294.8px,#7e0e00 295.8px,#790800 297.2px,#841500 298.8px,#902a00 300.5px,#9c4600 302.1px,#a46300 303.8px,#9d4900 305.1px,#923000 306.4px,#9d4800 308.0px,#a46100 309.6px,#aa7b00 311.2px,#a66900 311.8px,#912d00 312.9px,#780700 313.9px,#730200 314.5px,#7f0f00 316.4px,#8c2100 318.2px,#993f00 320.0px,#a35f00 321.9px,#aa7e00 323.7px,#ad9900 325.6px,#b0a702 327.4px,#b2b004 329.3px,#b4b10e 331.1px,#b2b005 332.2px,#b0a902 333.2px,#aea100 334.3px,#b1aa03 336.2px,#b3b007 338.0px,#b5b111 339.9px);-webkit-mask-image:linear-gradient(180deg,transparent 85.0px,#000 93.5px);mask-image:linear-gradient(180deg,transparent 85.0px,#000 93.5px)"></div>
<div style="background:linear-gradient(90deg,#a05100 0.6px,#9b4500 2.8px,#881900 3.7px,#740200 4.5px,#6d0100 5.3px,#6d0100 6.9px,#710200 8.8px,#750300 10.6px,#811100 12.4px,#8d2200 14.3px,#983e00 16.1px,#a25a00 18.0px,#a97700 19.8px,#9c4800 20.6px,#891b00 21.5px,#943300 22.2px,#8f2700 22.3px,#7e0e00 23.0px,#720200 23.7px,#700200 23.9px,#760400 25.7px,#821300 27.5px,#8f2700 29.2px,#9b4500 31.0px,#a46300 32.7px,#ab8100 34.5px,#ad9b00 36.3px,#b0a702 38.0px,#b2b004 39.8px,#b4b10e 41.6px,#b3b008 45.4px,#9b4400 46.4px,#6a0100 47.5px,#680000 50.9px,#6c0100 52.6px,#700100 54.2px,#740200 55.8px,#7f0f00 57.5px,#8b1e00 59.1px,#973b00 60.9px,#a25900 62.7px,#a97800 64.4px,#ac9200 66.2px,#afa401 68.0px,#b1ad03 69.8px,#afa601 71.4px,#a25a00 72.5px,#7d0d00 73.5px,#740200 75.2px,#801000 76.6px,#8c2100 77.9px,#973b00 79.1px,#a15500 80.4px,#a77000 81.6px,#ab8900 82.9px,#aea000 84.1px,#b0a702 86.1px,#b2af04 88.0px,#b4b00b 89.9px,#b3b007 90.7px,#ad9900 91.7px,#a15600 92.7px,#9c4700 93.4px,#a56400 94.7px,#ab8100 96.0px,#ad9900 97.3px,#b0a602 98.6px,#b2af04 99.9px,#b4b00c 101.2px,#b6b115 102.5px,#b8b21e 104.7px,#bab227 106.8px,#c1ae45 109.0px,#bcb131 110.3px,#b4b10f 111.2px,#aea100 112.1px,#ad9300 113.4px,#afa401 115.1px,#b1ad03 116.7px,#b4b00b 118.3px,#b6b115 119.9px,#b8b21e 121.5px,#bcb12d 123.1px,#c2ae4a 124.4px,#c9ab68 125.7px,#c3ad4f 126.6px,#beb037 127.5px,#b9b224 128.4px,#b8b11d 129.7px,#b6b115 131.0px,#b4b00c 132.6px,#a66b00 133.6px,#730200 134.7px,#720200 136.7px,#790800 140.3px,#881900 141.5px,#973a00 142.7px,#a25900 145.5px,#a76d00 147.4px,#a46300 147.8px,#912d00 148.9px,#7a0a00 150.0px,#750300 150.3px,#811200 151.8px,#8e2600 153.3px,#9b4400 154.9px,#a46300 156.4px,#ab8200 157.9px,#ae9c00 159.4px,#b0a802 161.0px,#b2b005 162.5px,#b5b10f 164.0px,#b7b117 166.3px,#b8b220 168.6px,#b8b11c 168.8px,#b5b111 169.7px,#b3b007 170.7px,#b2af04 170.9px,#b4b00b 173.4px,#b3b007 174.6px,#ac8d00 175.6px,#973a00 176.7px,#963800 178.1px,#a15400 180.4px,#a77100 182.7px,#ac8a00 184.9px,#aea100 187.2px,#ad9900 188.6px,#9b4300 189.7px,#760400 190.7px,#730200 191.9px,#7c0b00 193.6px,#871900 195.2px,#933200 196.9px,#9f4d00 198.5px,#a66b00 200.2px,#ab8600 201.8px,#ae9e00 203.5px,#b0a802 205.1px,#ad9a00 206.3px,#aa7f00 207.5px,#ad9600 209.9px,#afa501 212.3px,#b1ad03 214.6px,#b3b00a 217.0px,#b6b113 219.4px,#b8b11c 221.8px,#b7b119 223.0px,#b2b005 224.0px,#ad9a00 225.0px,#ac8d00 226.1px,#ae9c00 227.5px,#afa401 228.8px,#aea000 230.0px,#a66900 231.0px,#902b00 231.9px,#8f2700 233.2px,#9b4500 235.0px,#963900 235.6px,#851600 236.4px,#740200 237.1px,#720200 237.4px,#7a0900 238.5px,#851700 239.6px,#811100 239.9px,#720200 240.6px,#6c0100 241.4px,#6a0100 241.8px,#6e0100 243.9px,#730200 245.9px,#7e0d00 247.9px,#8b1e00 249.9px,#983d00 251.9px,#a35d00 253.9px,#aa7e00 255.9px,#ac9100 257.9px,#aea200 259.9px,#ae9d00 261.7px,#953500 262.7px,#700100 263.8px,#6e0100 265.6px,#730200 267.4px,#7c0c00 269.3px,#891b00 271.1px,#963900 272.9px,#a25700 274.8px,#a97700 276.6px,#ad9300 278.5px,#ac8c00 279.5px,#9b4400 280.5px,#7d0c00 281.4px,#760500 282.4px,#831400 284.0px,#902900 285.7px,#9c4700 287.4px,#a56600 289.0px,#ab8400 290.7px,#ae9e00 292.4px,#ad9900 293.6px,#a35d00 294.5px,#8b1e00 295.5px,#871900 296.9px,#943400 299.1px,#a15400 301.2px,#a87400 303.4px,#a25a00 304.7px,#9a4100 306.1px,#a25700 307.6px,#a76d00 309.2px,#ab8200 310.8px,#a87100 311.4px,#922f00 312.4px,#770500 313.5px,#730200 314.1px,#7f0f00 316.0px,#8c2000 317.9px,#983e00 319.7px,#a35d00 321.6px,#aa7d00 323.5px,#ad9800 325.3px,#b0a602 327.2px,#b2b004 329.1px,#b4b10e 331.0px,#b3b006 332.0px,#b1ac03 333.1px,#afa501 334.2px,#b1ac03 336.1px,#b3b008 338.0px,#b5b111 339.9px);-webkit-mask-image:linear-gradient(180deg,transparent 93.5px,#000 102.0px);mask-image:linear-gradient(180deg,transparent 93.5px,#000 102.0px)"></div>
<div style="background:linear-gradient(90deg,#973b00 0.5px,#933200 2.6px,#7c0b00 3.8px,#6f0100 5.0px,#6f0100 6.6px,#730200 8.8px,#7d0c00 10.9px,#891b00 13.1px,#953700 15.2px,#a15400 17.4px,#a87200 19.6px,#9c4600 20.4px,#8a1c00 21.2px,#922f00 21.8px,#8e2500 21.9px,#7e0e00 22.6px,#720200 23.2px,#710200 23.5px,#770500 25.3px,#831400 27.1px,#902a00 28.9px,#9c4800 30.7px,#a56700 32.5px,#ab8400 34.3px,#ae9e00 36.1px,#b0a802 37.9px,#b2b006 39.7px,#b5b10f 41.5px,#b3b009 45.3px,#9e4c00 46.4px,#6d0100 47.4px,#6a0100 50.9px,#6d0100 52.5px,#710200 54.1px,#780600 55.7px,#831400 57.3px,#8f2800 58.9px,#9b4300 60.7px,#a46000 62.4px,#aa7c00 64.2px,#ad9400 65.9px,#afa401 67.7px,#b1ac03 69.5px,#afa401 71.1px,#a25800 72.1px,#7e0e00 73.1px,#740200 74.9px,#7e0e00 76.2px,#891b00 77.6px,#943400 78.9px,#a04f00 80.1px,#a66c00 81.4px,#ab8600 82.7px,#ae9d00 83.9px,#b0a702 85.8px,#b2af04 87.8px,#b4b00b 89.7px,#b3b008 90.5px,#ae9c00 91.5px,#a35b00 92.5px,#9e4c00 93.2px,#a66a00 94.5px,#ab8500 95.8px,#ae9d00 97.1px,#b0a802 98.4px,#b2b004 99.7px,#b4b10d 101.0px,#b6b117 102.3px,#b9b220 105.5px,#bdb034 108.7px,#b9b224 110.0px,#b4b00c 110.9px,#aea200 111.8px,#ad9400 113.1px,#afa501 114.7px,#b1ad03 116.4px,#b4b00b 118.0px,#b6b114 119.6px,#b8b21e 121.2px,#bbb22a 122.8px,#c2ae48 124.1px,#c9ab66 125.4px,#c1af43 126.7px,#bab224 128.1px,#b8b11d 129.4px,#b6b115 130.7px,#b5b110 131.4px,#b3b00a 132.2px,#a56700 133.3px,#730200 134.3px,#720200 136.4px,#770600 140.0px,#831400 141.2px,#8f2900 142.4px,#993e00 143.8px,#a15400 145.2px,#a76d00 147.1px,#a56500 147.5px,#912c00 148.6px,#790800 149.6px,#740200 150.0px,#811100 151.5px,#8e2600 153.1px,#9b4400 154.6px,#a56400 156.1px,#ab8300 157.7px,#ae9e00 159.2px,#b0a902 160.8px,#b3b006 162.3px,#b5b111 163.8px,#b7b118 166.2px,#b8b21f 168.5px,#b7b11b 168.7px,#b5b112 169.6px,#b3b009 170.6px,#b2b005 170.8px,#b4b00b 173.3px,#b3b007 174.5px,#ac9200 175.6px,#9b4500 176.6px,#9e4b00 178.1px,#a46300 180.3px,#aa7c00 182.6px,#ac9000 184.8px,#aea200 187.1px,#ae9e00 188.5px,#9c4600 189.5px,#750300 190.6px,#730200 191.8px,#7d0d00 193.7px,#8a1c00 195.5px,#973b00 197.4px,#a25b00 199.3px,#aa7c00 201.2px,#ad9600 203.1px,#b0a602 204.9px,#ae9d00 206.1px,#ab8900 207.3px,#aea100 210.9px,#b1ab03 214.5px,#b3b009 218.1px,#b5b113 221.7px,#b5b110 222.9px,#b1ac03 223.9px,#ad9700 225.0px,#ac8b00 226.1px,#ad9a00 229.0px,#ad9300 230.3px,#a56500 231.3px,#943300 232.2px,#953600 233.5px,#a05000 235.3px,#9c4700 235.9px,#8a1d00 236.6px,#790700 237.3px,#750300 237.5px,#7e0e00 238.5px,#881900 239.5px,#841500 239.7px,#730200 240.4px,#6e0100 241.1px,#6c0100 241.6px,#700100 243.6px,#740200 245.6px,#7f0f00 247.6px,#8b1e00 249.7px,#973a00 251.7px,#a25700 253.7px,#a87500 255.7px,#ac8a00 257.7px,#ae9e00 259.7px,#ad9900 261.5px,#953500 262.5px,#700200 263.5px,#6f0100 265.3px,#730200 267.2px,#7e0e00 269.0px,#8a1c00 270.8px,#973a00 272.7px,#a25700 274.5px,#a97600 276.3px,#ac9000 278.2px,#ac8d00 279.2px,#9b4400 280.2px,#7c0b00 281.1px,#750400 282.1px,#821200 283.7px,#8e2600 285.4px,#9b4400 287.1px,#a46300 288.7px,#ab8100 290.4px,#ad9a00 292.1px,#ad9a00 293.3px,#a76e00 294.3px,#983c00 295.2px,#963800 296.6px,#a05100 298.7px,#a66c00 300.9px,#ab8400 303.1px,#a76d00 304.4px,#a15300 305.7px,#a77000 308.0px,#ab8900 310.4px,#a97a00 310.9px,#933100 312.0px,#750400 313.1px,#730200 313.7px,#7e0e00 315.6px,#8b1f00 317.5px,#983d00 319.4px,#a35c00 321.3px,#aa7c00 323.2px,#ad9700 325.1px,#b0a602 327.0px,#b2af04 328.9px,#b4b10d 330.8px,#b2b005 332.5px,#b0a902 334.1px,#b3b006 337.0px,#b5b110 339.9px);-webkit-mask-image:linear-gradient(180deg,transparent 102.0px,#000 110.5px);mask-image:linear-gradient(180deg,transparent 102.0px,#000 110.5px)"></div>
<div style="background:linear-gradient(90deg,#8e2600 0.5px,#8b1f00 2.4px,#790800 3.6px,#700200 4.7px,#710200 6.3px,#780600 8.9px,#851600 11.5px,#922e00 14.1px,#9f4d00 16.7px,#a76e00 19.3px,#9b4400 20.1px,#8a1c00 20.9px,#902b00 21.4px,#8d2400 21.5px,#7e0e00 22.2px,#720200 22.8px,#710200 23.1px,#780700 24.9px,#851600 26.8px,#912d00 28.6px,#9e4b00 30.4px,#a66a00 32.2px,#ab8700 34.1px,#aea000 35.9px,#b0a902 37.7px,#b3b007 39.5px,#b5b110 41.4px,#b3b00a 45.3px,#a15500 46.4px,#6f0100 47.4px,#6b0100 50.8px,#6f0100 52.4px,#730200 54.0px,#7c0c00 55.5px,#881a00 57.1px,#933200 58.7px,#a05000 60.8px,#a77100 62.9px,#ac8d00 65.0px,#afa201 67.0px,#b1ac03 69.1px,#b0a702 69.9px,#aea100 70.7px,#a15500 71.8px,#7e0e00 72.8px,#730200 74.6px,#7c0c00 75.9px,#861700 77.3px,#922e00 78.6px,#9d4a00 79.8px,#a56700 81.1px,#ab8300 82.4px,#ad9b00 83.7px,#b0a602 85.6px,#b2ae04 87.6px,#b4b00b 89.5px,#b3b008 90.4px,#ae9f00 91.4px,#a46000 92.4px,#a05200 93.1px,#a76f00 94.3px,#ab8900 95.6px,#aea100 96.9px,#b0a902 98.2px,#b2b006 99.5px,#b5b10f 100.8px,#b7b118 102.0px,#b8b21f 105.2px,#bab225 108.4px,#b8b21f 109.7px,#b3b00a 110.6px,#afa201 111.5px,#ad9500 112.8px,#afa501 114.4px,#b1ad03 116.0px,#b4b00a 117.6px,#b6b114 119.2px,#b8b11d 120.9px,#bab227 122.5px,#c1ae45 123.8px,#c8ab64 125.1px,#c0af42 126.4px,#bab225 127.7px,#b8b11d 129.0px,#b6b115 130.3px,#b4b10e 131.1px,#b3b007 131.9px,#a46200 132.9px,#730200 134.0px,#720200 136.1px,#750400 139.7px,#7f0f00 140.9px,#881a00 142.1px,#943400 143.4px,#a04f00 144.8px,#a66c00 146.7px,#a56700 147.2px,#912c00 148.2px,#780700 149.3px,#740200 149.7px,#7f0f00 151.1px,#8b1f00 152.5px,#973c00 153.9px,#a25800 155.3px,#a97700 156.7px,#ac9000 158.1px,#afa301 159.5px,#b1ac03 160.9px,#b3b009 162.3px,#b5b112 163.7px,#b7b118 166.0px,#b8b21e 168.3px,#b7b11b 168.5px,#b5b113 169.5px,#b3b00a 170.5px,#b3b008 170.7px,#b4b00b 173.2px,#b3b008 174.4px,#ad9800 175.5px,#a05000 176.5px,#a35e00 178.0px,#a97900 181.0px,#ac9100 184.0px,#afa301 187.0px,#aea100 188.3px,#9c4800 189.4px,#740200 190.5px,#730200 191.6px,#7d0c00 193.5px,#891b00 195.4px,#963900 197.2px,#a25800 199.1px,#a97800 201.0px,#ad9300 202.9px,#afa501 204.7px,#ad9300 207.1px,#afa401 211.9px,#b1ac03 216.7px,#b3b009 221.6px,#b3b007 222.8px,#b0a702 223.9px,#ad9400 224.9px,#ab8800 226.1px,#ab8900 229.2px,#ab8400 230.5px,#a46000 231.5px,#983c00 232.5px,#9b4400 233.8px,#a35c00 235.6px,#a15500 236.1px,#902b00 236.8px,#7f0f00 237.5px,#7c0b00 237.7px,#831400 238.5px,#8a1d00 239.3px,#871900 239.5px,#760400 240.2px,#6f0100 240.9px,#6d0100 241.4px,#710200 243.7px,#790800 246.1px,#851700 248.4px,#922f00 250.7px,#9f4d00 253.1px,#a66c00 255.4px,#ab8300 257.4px,#ad9800 259.4px,#ad9500 261.2px,#943500 262.2px,#710200 263.3px,#700100 265.1px,#740200 266.9px,#7f0f00 268.7px,#8b1f00 270.6px,#973b00 272.4px,#a25700 274.2px,#a87500 276.1px,#ac8e00 277.9px,#ac8e00 278.9px,#9b4300 279.9px,#7b0a00 280.9px,#740200 281.8px,#811100 283.4px,#8d2400 285.1px,#9a4100 286.8px,#a35f00 288.5px,#aa7e00 290.1px,#ad9700 291.8px,#ad9b00 293.0px,#aa7e00 294.0px,#a35b00 294.9px,#a25a00 296.3px,#a97900 299.5px,#ad9300 302.7px,#aa7e00 304.0px,#a56600 305.3px,#aa7d00 307.6px,#ac9100 310.0px,#ab8100 310.5px,#943400 311.6px,#740200 312.7px,#730200 313.3px,#7e0e00 315.2px,#8b1e00 317.2px,#983c00 319.1px,#a35b00 321.0px,#aa7b00 322.9px,#ad9600 324.9px,#afa601 326.8px,#b2af04 328.7px,#b4b10d 330.7px,#b3b006 332.3px,#b1ac03 334.0px,#b3b008 336.9px,#b5b110 339.9px);-webkit-mask-image:linear-gradient(180deg,transparent 110.5px,#000 119.0px);mask-image:linear-gradient(180deg,transparent 110.5px,#000 119.0px)"></div>
<div style="background:linear-gradient(90deg,#851600 0.5px,#831400 2.2px,#770600 3.3px,#710200 4.4px,#730200 6.0px,#7d0c00 8.6px,#881a00 11.2px,#933200 13.8px,#9f4d00 16.4px,#a66900 19.1px,#9a4200 19.8px,#8a1c00 20.6px,#8f2700 21.0px,#8c2200 21.1px,#7e0d00 21.8px,#720200 22.4px,#720200 22.7px,#790800 24.6px,#861700 26.4px,#933000 28.3px,#9f4e00 30.1px,#a76d00 32.0px,#ac8a00 33.8px,#aea100 35.7px,#b1aa03 37.6px,#b3b008 39.4px,#b5b112 41.3px,#b3b00a 45.3px,#a35e00 46.3px,#710200 47.4px,#6d0100 50.7px,#710200 52.3px,#760400 53.8px,#811200 55.4px,#8c2200 57.0px,#983c00 58.5px,#a25800 60.6px,#a97600 62.6px,#ac8f00 64.7px,#afa301 66.7px,#b1ab03 68.8px,#afa501 69.6px,#ae9e00 70.4px,#a05200 71.4px,#7f0f00 72.4px,#780700 73.3px,#730200 74.2px,#7a0900 75.6px,#831400 77.0px,#8f2800 78.3px,#9b4500 79.6px,#a46200 80.9px,#aa8000 82.2px,#ad9800 83.5px,#afa601 85.4px,#b2ae04 87.4px,#b4b00b 89.4px,#b3b009 90.2px,#aea100 91.2px,#a56600 92.2px,#a25700 92.9px,#a87400 94.2px,#ac8e00 95.4px,#afa201 96.7px,#b1ab03 98.0px,#b3b007 99.3px,#b5b110 100.5px,#b7b119 101.8px,#b9b220 108.1px,#b7b119 109.4px,#b3b008 110.3px,#afa301 111.2px,#ad9600 112.5px,#afa501 114.1px,#b1ad03 115.7px,#b3b00a 117.3px,#b6b113 118.9px,#b8b11c 120.5px,#bab225 122.1px,#c1af43 123.4px,#c8ab62 124.7px,#c0af42 126.1px,#bab225 127.4px,#b8b11d 128.7px,#b6b115 130.0px,#b4b10d 130.8px,#b2b005 131.5px,#a35e00 132.6px,#730200 133.6px,#720200 135.7px,#740200 139.3px,#7a0900 140.5px,#811100 141.7px,#8b1d00 142.6px,#943400 143.6px,#9e4b00 144.5px,#a66b00 146.4px,#a66a00 146.8px,#912c00 147.9px,#770600 149.0px,#740200 149.4px,#7f0f00 150.8px,#8b1f00 152.2px,#983c00 153.6px,#a25a00 155.0px,#a97800 156.4px,#ac9200 157.8px,#afa401 159.3px,#b1ad03 160.7px,#b3b00a 162.1px,#b6b114 163.5px,#b8b11d 168.2px,#b7b11a 168.4px,#b6b113 169.4px,#b4b00c 170.4px,#b3b00a 170.6px,#b4b00c 173.1px,#b3b009 174.4px,#ae9e00 175.4px,#a35c00 176.5px,#a87100 177.9px,#ab8500 180.9px,#ad9800 183.9px,#afa401 186.8px,#afa301 188.2px,#9d4a00 189.3px,#740200 190.3px,#730200 191.5px,#7c0c00 193.4px,#891b00 195.2px,#953700 197.1px,#a15400 198.9px,#a87400 200.8px,#ac8f00 202.7px,#afa301 204.5px,#ae9d00 206.9px,#afa501 214.2px,#b1ac03 221.5px,#b1ab03 222.7px,#afa301 223.8px,#ac9200 224.9px,#ab8600 226.2px,#a97800 229.4px,#a87400 230.8px,#a35c00 231.8px,#9b4400 232.8px,#a15300 234.1px,#a66800 235.8px,#a46300 236.4px,#963900 237.0px,#851600 237.6px,#821300 237.8px,#8d2300 239.2px,#8b1e00 239.3px,#7a0900 240.0px,#700200 240.7px,#6f0100 241.1px,#720200 243.5px,#7b0a00 245.8px,#861700 248.2px,#912d00 250.5px,#9d4800 252.8px,#a46400 255.2px,#aa7d00 257.2px,#ac9100 259.2px,#ac9200 261.0px,#943400 262.0px,#710200 263.0px,#710200 264.8px,#750400 266.6px,#811100 268.5px,#8c2100 270.3px,#973c00 272.1px,#a25700 273.9px,#a87300 275.8px,#ac8c00 277.6px,#ac8f00 278.6px,#9a4300 279.6px,#7a0900 280.6px,#740200 281.5px,#801000 283.2px,#8c2100 284.8px,#983e00 286.5px,#a35c00 288.2px,#aa7a00 289.9px,#ad9400 291.5px,#ae9c00 292.8px,#ac8c00 293.7px,#aa7b00 294.7px,#aa7e00 296.0px,#ac9000 299.2px,#aea100 302.4px,#ac8d00 303.7px,#a97900 304.9px,#ab8900 307.2px,#ad9800 309.5px,#ab8700 310.1px,#953600 311.2px,#740200 312.2px,#730200 312.9px,#7d0d00 314.8px,#8a1d00 316.8px,#973b00 318.8px,#a25a00 320.7px,#aa7a00 322.7px,#ad9500 324.7px,#afa501 326.6px,#b2af04 328.6px,#b4b10d 330.5px,#b2b004 333.9px,#b3b00a 336.9px,#b5b110 339.9px);-webkit-mask-image:linear-gradient(180deg,transparent 119.0px,#000 127.5px);mask-image:linear-gradient(180deg,transparent 119.0px,#000 127.5px)"></div>
<div style="background:linear-gradient(90deg,#841500 0.4px,#831400 2.0px,#7a0900 3.0px,#730200 4.1px,#760500 5.7px,#831400 9.0px,#902a00 12.2px,#9d4900 15.5px,#a66900 18.8px,#9a4200 19.6px,#8a1c00 20.3px,#8e2600 20.7px,#8c2100 20.7px,#7e0d00 21.4px,#720200 22.0px,#720200 22.3px,#790800 24.2px,#861700 26.1px,#922f00 28.0px,#9e4c00 29.9px,#a66b00 31.7px,#ab8700 33.6px,#aea000 35.5px,#b0a902 37.4px,#b3b006 39.3px,#b5b110 41.2px,#b3b00a 45.3px,#a46100 46.3px,#720200 47.4px,#6e0100 50.6px,#720200 52.6px,#7a0900 54.5px,#871900 56.4px,#943400 58.3px,#a15200 60.4px,#a87300 62.4px,#ac8f00 64.4px,#afa301 66.4px,#b1ad03 68.5px,#b0a702 69.2px,#aea100 70.0px,#a35c00 71.0px,#841500 72.1px,#780600 73.9px,#801000 75.3px,#881a00 76.7px,#943400 78.0px,#a05100 79.3px,#a76f00 80.6px,#ac8a00 81.9px,#aea100 83.2px,#b0a902 85.2px,#b2b004 87.2px,#b4b00c 89.2px,#b3b008 90.1px,#aea000 91.1px,#a56500 92.1px,#a15400 92.7px,#a77000 94.0px,#ab8900 95.3px,#aea000 96.5px,#b0a802 97.8px,#b2b005 99.1px,#b4b10d 100.3px,#b6b116 101.6px,#b8b220 107.8px,#b7b118 109.1px,#b2b006 110.0px,#aea100 110.9px,#ad9800 112.2px,#b0a702 114.1px,#b2b004 116.0px,#b4b10f 118.0px,#b7b119 119.9px,#b9b223 121.8px,#bfb03b 123.1px,#c6ac5b 124.4px,#c0af40 125.7px,#bab226 127.1px,#b8b21e 128.4px,#b6b115 129.6px,#b4b10d 130.4px,#b2b005 131.2px,#a35d00 132.3px,#730200 133.3px,#720200 135.4px,#740200 139.0px,#801000 141.4px,#8a1c00 142.3px,#943400 143.2px,#9e4c00 144.2px,#a66b00 146.1px,#a66900 146.5px,#912b00 147.6px,#770600 148.7px,#740200 149.0px,#7f0f00 150.5px,#8c2000 151.9px,#983c00 153.3px,#a25900 154.8px,#a97800 156.2px,#ac9100 157.6px,#afa401 159.0px,#b1ac03 160.5px,#b3b009 161.9px,#b5b113 163.3px,#b8b11b 168.1px,#b7b119 168.3px,#b5b113 169.3px,#b4b00c 170.3px,#b4b00b 170.5px,#b4b00c 173.1px,#b3b009 174.3px,#ae9f00 175.4px,#a35d00 176.4px,#a87500 177.8px,#ab8800 180.8px,#ad9a00 183.8px,#afa401 186.7px,#afa401 188.1px,#9f4d00 189.1px,#750300 190.2px,#730200 191.4px,#7c0b00 193.2px,#871900 195.1px,#933200 196.9px,#9f4d00 198.8px,#a66b00 200.6px,#ab8600 202.5px,#ae9e00 204.3px,#ab8500 206.7px,#ad9700 211.6px,#afa401 216.5px,#b1aa03 221.4px,#b0aa02 222.6px,#afa301 223.8px,#ad9300 224.9px,#ab8900 226.2px,#a87500 229.6px,#a87300 231.0px,#a35f00 232.1px,#9e4b00 233.1px,#a25800 234.3px,#a66c00 236.1px,#a56700 236.6px,#983c00 237.2px,#861700 237.8px,#841500 238.0px,#8e2400 239.0px,#8c2000 239.1px,#7b0a00 239.8px,#710200 240.4px,#6f0100 240.9px,#730200 243.7px,#7f0e00 246.5px,#8b1f00 249.3px,#983e00 252.1px,#a35c00 254.9px,#a97600 256.9px,#ac8c00 258.9px,#ac8e00 260.7px,#933200 261.7px,#720200 262.7px,#710200 264.5px,#770600 266.7px,#841500 268.8px,#912c00 270.9px,#9d4a00 273.0px,#a66900 275.2px,#ab8600 277.3px,#ac8b00 278.3px,#9d4a00 279.3px,#821300 280.3px,#7d0d00 281.2px,#8a1d00 283.2px,#973c00 285.2px,#a25b00 287.2px,#aa7c00 289.2px,#ad9600 291.3px,#ae9e00 292.5px,#ac8f00 293.4px,#aa8000 294.4px,#ab8200 295.7px,#ad9600 298.9px,#afa301 302.0px,#ad9800 303.3px,#ab8600 304.6px,#aea000 309.1px,#ac9100 309.7px,#973b00 310.7px,#740200 311.8px,#730200 312.5px,#7d0d00 314.5px,#8a1c00 316.5px,#973a00 318.4px,#a25800 320.4px,#a97800 322.4px,#ad9300 324.4px,#afa401 326.4px,#b1ae03 328.4px,#b4b00b 330.4px,#b2b004 333.8px,#b3b00a 336.9px,#b5b110 339.9px);-webkit-mask-image:linear-gradient(180deg,transparent 127.5px,#000 136.0px);mask-image:linear-gradient(180deg,transparent 127.5px,#000 136.0px)"></div>
<div style="background:linear-gradient(90deg,#841500 0.4px,#861700 1.8px,#7d0d00 2.8px,#750300 3.7px,#7b0a00 5.4px,#871800 8.7px,#933000 12.0px,#9e4c00 15.3px,#a66900 18.6px,#9a4200 19.3px,#8a1c00 20.0px,#8e2600 20.3px,#8c2100 20.3px,#7e0d00 21.0px,#720200 21.6px,#720200 21.9px,#790800 23.8px,#851600 25.7px,#912d00 27.7px,#9d4a00 29.6px,#a56700 31.5px,#ab8400 33.4px,#ae9d00 35.3px,#b0a802 37.2px,#b2b004 39.2px,#b4b10e 41.1px,#b3b00a 45.2px,#a46300 46.3px,#720200 47.3px,#700100 48.9px,#6e0100 50.6px,#710200 52.5px,#780600 54.4px,#831400 56.2px,#8f2700 58.1px,#9b4400 59.8px,#a46200 61.5px,#aa8000 63.1px,#ad9800 64.8px,#b0a602 66.5px,#b2af04 68.1px,#b0aa02 68.9px,#afa401 69.6px,#a66900 70.7px,#8b1e00 71.7px,#7f0f00 73.5px,#871900 75.0px,#8f2800 76.4px,#9b4400 77.7px,#a46200 79.0px,#aa7f00 80.3px,#ad9800 81.7px,#afa601 83.0px,#b2af04 86.0px,#b4b10e 89.1px,#b3b008 89.9px,#ae9f00 90.9px,#a46300 91.9px,#9f4f00 92.6px,#a76e00 94.0px,#ac8b00 95.5px,#aea200 97.0px,#b1ab03 98.4px,#b3b008 99.9px,#b5b112 101.3px,#b7b119 104.4px,#b9b220 107.5px,#b7b118 108.8px,#b2b004 109.7px,#ad9b00 110.6px,#ad9a00 111.9px,#b0a702 113.8px,#b2b004 115.7px,#b4b10d 117.6px,#b6b117 119.6px,#b9b220 121.5px,#bdb133 122.8px,#c4ad53 124.1px,#c0af3e 125.4px,#bbb229 126.7px,#b8b21e 128.0px,#b6b115 129.3px,#b4b10d 130.1px,#b2b005 130.9px,#a35d00 131.9px,#730200 133.0px,#720200 135.1px,#740200 138.7px,#801000 141.1px,#8a1c00 142.0px,#953500 142.9px,#9f4e00 143.8px,#a66a00 145.7px,#a56800 146.2px,#902a00 147.3px,#770500 148.4px,#740200 148.7px,#811200 150.3px,#8e2700 151.9px,#9c4600 153.5px,#a56600 155.1px,#ab8500 156.7px,#aea000 158.3px,#b0a902 159.9px,#b3b007 161.6px,#b5b111 163.2px,#b7b11a 168.0px,#b7b118 168.2px,#b5b112 169.2px,#b4b00c 170.2px,#b4b00b 170.4px,#b4b00c 173.0px,#b3b009 174.2px,#ae9e00 175.3px,#a35b00 176.4px,#a87500 177.8px,#ab8900 180.7px,#ad9b00 183.7px,#afa501 186.6px,#afa401 188.0px,#a05000 189.0px,#770500 190.1px,#730200 191.2px,#7d0c00 193.4px,#891b00 195.5px,#963900 197.7px,#a25800 199.8px,#a97800 202.0px,#ad9300 204.1px,#aa7c00 205.3px,#a46000 206.5px,#aa7a00 210.2px,#ac9000 213.9px,#afa201 217.6px,#b0aa02 221.3px,#b0aa02 222.5px,#afa301 223.7px,#ad9600 224.8px,#ac8e00 226.2px,#a97700 229.8px,#a97700 231.3px,#a46400 232.4px,#a05000 233.4px,#a35b00 234.6px,#a76d00 236.3px,#a66900 236.9px,#861700 238.0px,#841500 238.1px,#8e2500 238.9px,#8c2000 239.0px,#710200 240.2px,#6f0100 240.6px,#730200 243.4px,#7d0d00 246.3px,#8a1c00 249.1px,#963800 251.9px,#a15600 254.7px,#a77000 256.7px,#ab8800 258.7px,#ac8a00 260.4px,#923000 261.5px,#720200 262.5px,#710200 264.3px,#770600 266.4px,#831400 268.5px,#8f2900 270.6px,#9b4500 272.8px,#a46300 274.9px,#aa8000 277.0px,#ab8500 278.0px,#a15300 279.0px,#8c2200 280.0px,#891b00 280.9px,#943400 282.9px,#9f4e00 284.9px,#a66a00 286.9px,#ab8400 289.0px,#ad9a00 291.0px,#aea000 292.2px,#ac9000 293.2px,#aa7f00 294.1px,#ab8100 295.4px,#ad9800 298.5px,#afa601 301.7px,#aea000 302.9px,#ad9300 304.2px,#afa401 308.7px,#ad9b00 309.2px,#9a4100 310.3px,#740200 311.4px,#730200 312.1px,#7d0d00 314.1px,#891b00 316.1px,#963800 318.1px,#a15600 320.1px,#a87500 322.2px,#ac9000 324.2px,#afa301 326.2px,#b1ac03 328.2px,#b3b00a 330.2px,#b2af04 333.7px,#b3b00a 336.8px,#b5b110 339.9px);-webkit-mask-image:linear-gradient(180deg,transparent 136.0px,#000 144.5px);mask-image:linear-gradient(180deg,transparent 136.0px,#000 144.5px)"></div>
<div style="background:linear-gradient(90deg,#851600 0.3px,#881900 1.6px,#811100 2.5px,#7a0900 3.4px,#801000 5.0px,#8b1d00 8.4px,#953600 11.7px,#a04f00 15.0px,#a66900 18.3px,#9a4200 19.0px,#8a1c00 19.7px,#8e2600 19.9px,#8c2100 20.0px,#7e0d00 20.6px,#720200 21.2px,#720200 21.5px,#7a0900 23.7px,#871900 25.8px,#943400 28.0px,#a15300 30.2px,#a87400 32.3px,#ac9000 34.5px,#afa401 36.7px,#b1ae03 38.8px,#b4b00c 41.0px,#b3b009 45.2px,#a56500 46.2px,#730200 47.3px,#700200 48.9px,#6e0100 50.5px,#710200 52.4px,#750300 54.2px,#7f0f00 56.1px,#8a1b00 58.0px,#953600 59.4px,#a05200 60.8px,#a76f00 62.2px,#ab8900 63.6px,#aea000 65.0px,#b0a902 66.4px,#b2b005 67.8px,#b1ac03 68.5px,#b0a702 69.3px,#a97600 70.3px,#912d00 71.3px,#871900 73.2px,#8e2600 74.6px,#963800 76.1px,#a15500 77.4px,#a87300 78.7px,#ac8d00 80.1px,#aea200 81.4px,#b1ab03 82.8px,#b3b007 85.8px,#b5b10f 88.9px,#b3b007 89.7px,#ae9d00 90.8px,#a46000 91.8px,#9d4a00 92.4px,#a56800 93.9px,#ab8400 95.3px,#ae9d00 96.8px,#b0a802 98.2px,#b2b005 99.7px,#b4b10e 101.1px,#b6b117 104.2px,#b9b220 107.2px,#b7b117 108.5px,#b2af04 109.4px,#ad9400 110.3px,#ae9d00 111.6px,#b0a702 113.5px,#b2af04 115.4px,#b4b00c 117.3px,#b6b115 119.2px,#b8b21e 121.2px,#bbb22a 122.4px,#c3ae4c 123.7px,#bcb12d 126.4px,#b8b21f 127.7px,#b6b116 129.0px,#b4b10d 129.8px,#b2b005 130.5px,#a35d00 131.6px,#730200 132.6px,#720200 134.7px,#740200 138.3px,#801000 140.7px,#8a1d00 141.7px,#953700 142.6px,#a05000 143.5px,#a66900 145.4px,#a56700 145.8px,#902900 146.9px,#760500 148.1px,#750300 148.4px,#821200 150.0px,#8f2700 151.6px,#9c4600 153.3px,#a56500 154.9px,#ab8300 156.5px,#ae9e00 158.1px,#b0a802 159.7px,#b2b006 161.4px,#b5b110 163.0px,#b7b119 167.8px,#b6b117 168.0px,#b5b112 169.1px,#b4b00c 170.1px,#b4b00b 170.3px,#b4b00c 172.9px,#b3b009 174.2px,#ae9d00 175.2px,#a25a00 176.3px,#a87500 177.7px,#ab8900 180.6px,#ae9d00 183.6px,#afa601 186.5px,#afa501 187.8px,#a15300 188.9px,#790800 189.9px,#730200 191.1px,#7c0b00 193.2px,#881900 195.4px,#943300 197.5px,#a04f00 199.6px,#a76d00 201.8px,#ab8800 203.9px,#a46200 205.1px,#973a00 206.3px,#a15600 209.3px,#a87200 212.2px,#ac8b00 215.2px,#aea100 218.2px,#b0a902 221.2px,#b0aa02 222.5px,#afa401 223.6px,#ad9800 224.8px,#ad9300 226.3px,#a97800 230.0px,#aa7b00 231.6px,#a66800 232.6px,#a15600 233.7px,#a35e00 234.9px,#a76f00 236.6px,#a66a00 237.1px,#861800 238.2px,#841500 238.2px,#8e2600 238.7px,#8c2100 238.8px,#710200 239.9px,#6f0100 240.4px,#730200 243.2px,#7c0c00 246.0px,#881a00 248.8px,#943300 251.6px,#a04f00 254.4px,#a66a00 256.4px,#ab8300 258.4px,#ab8600 260.2px,#922e00 261.2px,#720200 262.2px,#710200 264.0px,#770600 266.1px,#831300 268.2px,#8e2600 270.4px,#9a4100 272.5px,#a35d00 274.6px,#a97900 276.7px,#aa7f00 277.7px,#a35c00 278.7px,#973a00 279.7px,#953700 280.6px,#a05100 283.1px,#a76d00 285.7px,#ab8700 288.2px,#ae9e00 290.7px,#aea100 292.0px,#ac9000 292.9px,#aa7f00 293.8px,#aa7f00 295.1px,#ac9200 297.2px,#aea100 299.3px,#b0a802 301.3px,#ae9f00 303.8px,#b0a702 308.3px,#aea200 308.8px,#9c4700 309.9px,#740200 311.0px,#730200 311.7px,#7d0c00 313.7px,#891b00 315.8px,#953700 317.8px,#a15400 319.9px,#a87300 321.9px,#ac8e00 324.0px,#afa201 326.0px,#b1ab03 328.1px,#b3b009 330.1px,#b2ae04 333.6px,#b3b009 336.8px,#b5b110 339.9px);-webkit-mask-image:linear-gradient(180deg,transparent 144.5px,#000 153.0px);mask-image:linear-gradient(180deg,transparent 144.5px,#000 153.0px)"></div>
<div style="background:linear-gradient(90deg,#851600 0.3px,#8a1c00 1.3px,#7e0e00 3.1px,#851600 4.7px,#912d00 9.2px,#9e4b00 13.6px,#a66a00 18.1px,#9a4200 18.7px,#8a1c00 19.4px,#8e2600 19.5px,#8c2100 19.6px,#7e0d00 20.2px,#720200 20.8px,#720200 21.1px,#7a0900 23.3px,#871800 25.5px,#933200 27.7px,#a05000 29.9px,#a77000 32.1px,#ac8d00 34.3px,#afa201 36.5px,#b1ac03 38.7px,#b3b009 40.9px,#b3b009 45.2px,#a56600 46.2px,#740200 47.3px,#710200 48.8px,#6e0100 50.4px,#720200 52.9px,#790700 55.3px,#841500 57.8px,#912d00 59.1px,#9e4b00 60.5px,#a66b00 61.9px,#ab8800 63.3px,#aea100 64.7px,#b1aa03 66.1px,#b3b008 67.4px,#b2af04 68.2px,#b0aa02 68.9px,#ab8100 70.0px,#983d00 71.0px,#8f2700 72.9px,#963800 74.3px,#9d4800 75.7px,#a56600 77.1px,#ab8200 78.5px,#ad9b00 79.8px,#b0a702 81.2px,#b2b004 82.5px,#b3b00a 85.6px,#b5b111 88.7px,#b3b006 89.6px,#ad9b00 90.6px,#a35e00 91.6px,#9b4500 92.3px,#a46100 93.7px,#aa7e00 95.1px,#ad9600 96.6px,#afa501 98.0px,#b1ad03 99.4px,#b3b00a 100.9px,#b5b111 102.9px,#b7b119 104.9px,#b9b220 106.9px,#b6b117 108.2px,#b1ad03 109.1px,#ac8c00 110.0px,#aea000 111.2px,#b0a902 113.6px,#b3b007 116.0px,#b5b111 118.4px,#b7b11b 120.8px,#bab225 122.1px,#c1af44 123.4px,#bcb131 126.1px,#b8b220 127.4px,#b6b116 128.6px,#b4b10d 129.4px,#b2b005 130.2px,#a35d00 131.2px,#730200 132.3px,#720200 134.4px,#740200 138.0px,#801000 140.4px,#8b1e00 141.3px,#963800 142.2px,#a15300 143.2px,#a66900 145.1px,#a56500 145.5px,#8f2800 146.6px,#760400 147.7px,#760400 148.1px,#831300 149.7px,#8f2800 151.4px,#9c4500 153.0px,#a56400 154.6px,#ab8200 156.3px,#ae9c00 157.9px,#b0a802 159.5px,#b2b005 161.2px,#b4b10e 162.8px,#b7b117 167.7px,#b6b116 167.9px,#b4b00c 170.0px,#b4b00b 170.2px,#b4b00c 172.8px,#b3b009 174.1px,#ae9d00 175.2px,#a25800 176.2px,#a87500 177.6px,#ac8a00 180.6px,#ae9e00 183.5px,#b0a602 186.4px,#afa601 187.7px,#a25700 188.8px,#7b0a00 189.8px,#730200 190.9px,#7b0a00 193.1px,#861700 195.2px,#912c00 197.3px,#9c4600 199.4px,#a46100 201.6px,#aa7d00 203.7px,#9d4800 204.9px,#871900 206.1px,#933200 208.6px,#9f4e00 211.1px,#a66d00 213.6px,#ab8800 216.1px,#aea000 218.6px,#b0a902 221.1px,#b1aa03 222.4px,#afa401 223.6px,#ad9b00 224.8px,#ad9900 226.3px,#ab8900 228.2px,#a97900 230.2px,#aa7e00 231.8px,#a76d00 232.9px,#a35c00 234.0px,#a46100 235.2px,#a77000 236.9px,#a66c00 237.4px,#871800 238.4px,#851600 238.4px,#8e2600 238.6px,#8c2200 238.6px,#710200 239.7px,#6f0100 240.1px,#730200 243.0px,#7b0b00 245.8px,#871800 248.6px,#922e00 251.4px,#9d4900 254.2px,#a56400 256.2px,#aa7f00 258.2px,#ab8200 259.9px,#912b00 261.0px,#720200 262.0px,#710200 263.7px,#790800 266.3px,#861800 268.8px,#933200 271.4px,#a05100 273.9px,#a87200 276.4px,#a97800 277.4px,#a56500 278.4px,#a15300 279.4px,#a15300 280.3px,#a77000 283.7px,#ac8a00 287.1px,#aea100 290.4px,#aea200 291.7px,#ac9100 292.6px,#aa7e00 293.5px,#aa7e00 294.8px,#ad9300 296.9px,#afa301 298.9px,#b1aa03 301.0px,#afa401 303.4px,#b1aa03 307.9px,#afa501 308.4px,#9f4d00 309.5px,#740200 310.6px,#730200 311.3px,#7d0c00 313.3px,#891a00 315.4px,#953500 317.5px,#a05200 319.6px,#a77000 321.6px,#ac8b00 323.7px,#aea100 325.8px,#b1aa03 327.9px,#b3b007 330.0px,#b1ad03 333.6px,#b3b009 336.7px,#b5b110 339.9px);-webkit-mask-image:linear-gradient(180deg,transparent 153.0px,#000 161.5px);mask-image:linear-gradient(180deg,transparent 153.0px,#000 161.5px)"></div>
<div style="background:linear-gradient(90deg,#851600 0.3px,#8b1d00 1.3px,#801000 3.0px,#861800 4.6px,#923000 9.1px,#9e4c00 13.5px,#a66a00 18.0px,#9a4200 18.7px,#8a1c00 19.3px,#8e2600 19.4px,#8c2100 19.5px,#7e0d00 20.1px,#720200 20.7px,#720200 21.0px,#7a0900 23.2px,#861800 25.4px,#933100 27.6px,#a04f00 29.8px,#a76f00 32.0px,#ac8b00 34.2px,#aea200 36.4px,#b1ab03 38.6px,#b3b009 40.9px,#b3b008 45.1px,#a56700 46.2px,#740200 47.3px,#710200 48.8px,#6e0100 50.4px,#710200 52.8px,#780600 55.3px,#831300 57.7px,#902a00 59.1px,#9d4900 60.5px,#a66900 61.8px,#ab8800 63.2px,#aea100 64.6px,#b1aa03 66.0px,#b3b008 67.3px,#b1ab03 68.8px,#ab8500 69.8px,#9a4100 70.9px,#912c00 72.8px,#983d00 74.2px,#9f4d00 75.7px,#a66b00 77.0px,#ab8600 78.4px,#ae9f00 79.7px,#b0a802 81.1px,#b2b005 82.5px,#b4b00b 85.6px,#b5b111 88.7px,#b2b006 89.6px,#ad9b00 90.6px,#a35e00 91.6px,#9b4400 92.2px,#a46000 93.7px,#aa7c00 95.1px,#ad9400 96.5px,#afa401 97.9px,#b1ac03 99.4px,#b3b009 100.8px,#b5b110 102.8px,#b7b118 104.8px,#b9b220 106.8px,#b6b117 108.1px,#b1ad03 109.0px,#ac8a00 109.9px,#aea000 111.2px,#b0a902 113.6px,#b3b007 115.9px,#b5b110 118.3px,#b7b11a 120.7px,#bab224 122.0px,#c0af42 123.3px,#bdb132 126.0px,#b9b220 127.3px,#b6b116 128.5px,#b4b10d 129.3px,#b2b005 130.1px,#a35d00 131.1px,#730200 132.2px,#720200 134.3px,#740200 137.9px,#801000 140.3px,#8b1e00 141.2px,#963900 142.1px,#a15300 143.1px,#a66800 145.0px,#a56500 145.4px,#8f2800 146.5px,#760400 147.6px,#760500 148.0px,#831300 149.6px,#8f2800 151.3px,#9c4500 152.9px,#a56400 154.6px,#ab8200 156.2px,#ad9b00 157.8px,#b0a702 159.5px,#b2b004 161.1px,#b4b10e 162.8px,#b6b117 167.7px,#b6b115 167.9px,#b4b00c 169.9px,#b4b00b 170.1px,#b4b00c 172.8px,#b3b009 174.1px,#ae9d00 175.2px,#a25800 176.2px,#a87500 177.6px,#ac8a00 180.5px,#ae9f00 183.4px,#b0a702 186.3px,#afa601 187.7px,#a25800 188.7px,#7b0a00 189.8px,#730200 190.9px,#7d0c00 193.4px,#8a1c00 196.0px,#973a00 198.5px,#a25900 201.1px,#a97900 203.6px,#9a4100 204.8px,#831300 206.0px,#8f2900 208.5px,#9c4700 211.0px,#a56700 213.5px,#ab8500 216.0px,#ae9f00 218.5px,#b0a902 221.0px,#b1aa03 222.3px,#afa401 223.6px,#ae9c00 224.8px,#ad9a00 226.3px,#ac8a00 228.3px,#a97a00 230.2px,#aa7f00 231.9px,#a76e00 233.0px,#a35e00 234.1px,#a46200 235.3px,#a77000 236.9px,#a66c00 237.4px,#871800 238.4px,#851600 238.5px,#8e2700 238.6px,#8c2200 238.6px,#710200 239.6px,#6f0100 240.1px,#730200 242.9px,#7b0a00 245.7px,#861700 248.5px,#912d00 251.3px,#9c4700 254.1px,#a46200 256.1px,#aa7e00 258.1px,#ab8100 259.9px,#902b00 260.9px,#720200 261.9px,#710200 263.7px,#790800 266.2px,#861700 268.7px,#933100 271.3px,#a04f00 273.8px,#a76f00 276.3px,#a97600 277.4px,#a25a00 279.3px,#a35c00 280.2px,#a97700 283.6px,#ac8d00 287.0px,#aea100 290.4px,#aea200 291.6px,#ac9100 292.5px,#aa7e00 293.5px,#aa7e00 294.7px,#ad9300 296.8px,#afa301 298.8px,#b1ab03 300.9px,#afa501 303.3px,#b1ab03 307.7px,#b0a602 308.3px,#9f4e00 309.4px,#740200 310.4px,#730200 311.1px,#7d0c00 313.2px,#891a00 315.3px,#953500 317.4px,#a05200 319.5px,#a77000 321.6px,#ac8a00 323.7px,#aea100 325.7px,#b0aa02 327.8px,#b3b007 329.9px,#b1ad03 333.5px,#b3b009 336.7px,#b5b110 339.9px);-webkit-mask-image:linear-gradient(180deg,transparent 161.5px,#000 170.0px);mask-image:linear-gradient(180deg,transparent 161.5px,#000 170.0px)"></div>
</div>
<svg width="468" height="560" viewBox="0 0 468 560">
<g font-family="Liberation Sans" fill="#404044" stroke="#404044" stroke-width="0.55">
<text x="410.2" y="32.2" font-size="14" textLength="9.8" lengthAdjust="spacingAndGlyphs">A</text>
<text x="411.2" y="239.2" font-size="14" textLength="8.4" lengthAdjust="spacingAndGlyphs">B</text>
<text x="409.3" y="415.9" font-size="14.8" textLength="11" lengthAdjust="spacingAndGlyphs">C</text>
</g>
<rect x="80" y="120.7" width="340" height="1.75" fill="#33a6dc"/>
<!-- chart B -->
<rect x="80.5" y="243" width="340.5" height="112" fill="#fff"/>
<polyline points="80.4,296.1 85.5,340.3 98.1,295.5 100.6,314.8 103.0,308.5 105.5,330.5 121.7,273.4 130.7,346.2 138.9,317.7 149.7,279.0 155.0,323.6 157.5,310.8 163.4,287.2 168.8,273.8 172.3,307.9 182.1,269.5 189.0,246.9 193.9,291.5 204.7,255.7 207.6,245.9 210.6,259.7 213.5,267.5 219.0,328.1 222.0,320.7 224.0,302.0 226.3,301.0 227.9,298.6 230.6,323.6 245.0,273.4 249.8,260.7 252.2,281.3 254.8,274.4 259.3,315.7 267.1,288.8 271.5,326.2 284.9,281.3 287.2,300.0 300.5,252.8 304.8,291.2 307.8,278.4 312.3,317.7 314.1,310.8 317.2,333.4 321.6,318.7 324.5,342.3 338.3,292.7 342.2,284.3 347.7,334.4 360.2,290.2 364.2,322.6 375.2,287.2 379.9,328.5 386.4,303.9 389.0,313.8 393.7,298.0 396.8,325.0 411.9,271.9 414.8,289.6 419.9,270.5" fill="none" stroke="#1a48a6" stroke-width="1.5" stroke-linejoin="round"/>
<g stroke="#707070" stroke-width="1.3" fill="none">
<path d="M80.3 243.5 V355.3 H419.8"/>
<path d="M74 243.5H80.3 M74 257.4H80.3 M74 271.2H80.3 M74 285.2H80.3 M74 299.1H80.3 M74 313.1H80.3 M74 327.1H80.3 M74 341H80.3"/>
<path d="M114.2 355V362 M148.2 355V362 M182.1 355V362 M216.1 355V362 M250 355V362 M284 355V362 M317.9 355V362 M351.9 355V362 M385.8 355V362 M419.8 355V362"/>
</g>
<g font-family="Liberation Sans" font-size="14.6" fill="#46464a" stroke="#46464a" stroke-width="0.6" lengthAdjust="spacingAndGlyphs">
<text x="139.1" y="398.2" textLength="72.7" lengthAdjust="spacingAndGlyphs">SPECTRAL</text>
<text x="216.9" y="398.2" textLength="91.4" lengthAdjust="spacingAndGlyphs">FREQUENCY</text>
<text x="313.0" y="398.2" textLength="46.9" lengthAdjust="spacingAndGlyphs">(1/µm)</text>
<text x="139.1" y="535.7" textLength="72.7" lengthAdjust="spacingAndGlyphs">SPECTRAL</text>
<text x="216.9" y="535.7" textLength="91.4" lengthAdjust="spacingAndGlyphs">FREQUENCY</text>
<text x="313.0" y="535.7" textLength="46.9" lengthAdjust="spacingAndGlyphs">(1/µm)</text>
<text transform="translate(24.8,344.6) rotate(-90)" textLength="56.7" lengthAdjust="spacingAndGlyphs">HEIGHT</text>
<text transform="translate(24.8,281.5) rotate(-90)" textLength="30.9" lengthAdjust="spacingAndGlyphs">(nm)</text>
<text transform="translate(23.6,503.9) rotate(-90)" textLength="61.4" lengthAdjust="spacingAndGlyphs">SPECTRAL</text>
<text transform="translate(23.6,437.3) rotate(-90)" textLength="27.9" lengthAdjust="spacingAndGlyphs">RMS</text>
<text transform="translate(39.2,510.3) rotate(-90)" textLength="71.9" lengthAdjust="spacingAndGlyphs">AMPLITUDE</text>
<text transform="translate(39.2,435.3) rotate(-90)" textLength="34.2" lengthAdjust="spacingAndGlyphs">(nm)</text>
</g>
<g font-family="Liberation Sans" font-size="10" fill="#5a5a5e"><text x="50.92" y="247.60" textLength="18.68" lengthAdjust="spacingAndGlyphs">400</text><text x="50.92" y="261.50" textLength="18.68" lengthAdjust="spacingAndGlyphs">300</text><text x="50.92" y="275.30" textLength="18.68" lengthAdjust="spacingAndGlyphs">200</text><text x="41.58" y="289.30" textLength="28.02" lengthAdjust="spacingAndGlyphs">99.99</text><text x="63.37" y="303.20" textLength="6.23" lengthAdjust="spacingAndGlyphs">0</text><text x="37.85" y="317.20" textLength="31.75" lengthAdjust="spacingAndGlyphs">-99.99</text><text x="47.19" y="331.20" textLength="22.41" lengthAdjust="spacingAndGlyphs">-200</text><text x="47.19" y="345.10" textLength="22.41" lengthAdjust="spacingAndGlyphs">-300</text><text x="111.13" y="376.30" textLength="6.23" lengthAdjust="spacingAndGlyphs">1</text><text x="145.07" y="376.30" textLength="6.23" lengthAdjust="spacingAndGlyphs">2</text><text x="179.01" y="376.30" textLength="6.23" lengthAdjust="spacingAndGlyphs">3</text><text x="212.95" y="376.30" textLength="6.23" lengthAdjust="spacingAndGlyphs">4</text><text x="246.89" y="376.30" textLength="6.23" lengthAdjust="spacingAndGlyphs">5</text><text x="280.83" y="376.30" textLength="6.23" lengthAdjust="spacingAndGlyphs">6</text><text x="314.77" y="376.30" textLength="6.23" lengthAdjust="spacingAndGlyphs">7</text><text x="348.71" y="376.30" textLength="6.23" lengthAdjust="spacingAndGlyphs">8</text><text x="382.65" y="376.30" textLength="6.23" lengthAdjust="spacingAndGlyphs">9</text><text x="413.47" y="376.30" textLength="12.46" lengthAdjust="spacingAndGlyphs">10</text><text x="57.74" y="424.59" textLength="12.46" lengthAdjust="spacingAndGlyphs">70</text><text x="57.74" y="434.52" textLength="12.46" lengthAdjust="spacingAndGlyphs">60</text><text x="57.74" y="444.45" textLength="12.46" lengthAdjust="spacingAndGlyphs">50</text><text x="57.74" y="454.38" textLength="12.46" lengthAdjust="spacingAndGlyphs">40</text><text x="57.74" y="464.31" textLength="12.46" lengthAdjust="spacingAndGlyphs">30</text><text x="57.74" y="474.24" textLength="12.46" lengthAdjust="spacingAndGlyphs">20</text><text x="57.74" y="484.17" textLength="12.46" lengthAdjust="spacingAndGlyphs">10</text><text x="133.19" y="511.00" textLength="6.23" lengthAdjust="spacingAndGlyphs">5</text><text x="186.77" y="511.00" textLength="12.46" lengthAdjust="spacingAndGlyphs">10</text><text x="243.47" y="511.00" textLength="12.46" lengthAdjust="spacingAndGlyphs">15</text><text x="300.17" y="511.00" textLength="12.46" lengthAdjust="spacingAndGlyphs">20</text><text x="356.87" y="511.00" textLength="12.46" lengthAdjust="spacingAndGlyphs">25</text><text x="413.57" y="511.00" textLength="12.46" lengthAdjust="spacingAndGlyphs">30</text></g>
<!-- chart C -->
<rect x="80.5" y="420.3" width="340.5" height="69.2" fill="#fff"/>
<g fill="#2378c9"><rect x="80.8" y="428.9" width="1.05" height="60.6"/><rect x="82.0" y="462.7" width="1.05" height="26.8"/><rect x="83.2" y="439.9" width="1.05" height="49.6"/><rect x="84.4" y="462.7" width="1.05" height="26.8"/><rect x="85.6" y="485.5" width="1.05" height="4.0"/><rect x="86.8" y="443.8" width="1.05" height="45.7"/><rect x="88.0" y="440.8" width="1.05" height="48.7"/><rect x="89.2" y="444.8" width="1.05" height="44.7"/><rect x="90.4" y="462.7" width="1.05" height="26.8"/><rect x="91.6" y="471.6" width="1.05" height="17.9"/><rect x="92.8" y="461.7" width="1.05" height="27.8"/><rect x="94.0" y="481.6" width="1.05" height="7.9"/><rect x="95.2" y="467.7" width="1.05" height="21.8"/><rect x="96.4" y="463.7" width="1.05" height="25.8"/><rect x="97.6" y="454.7" width="1.05" height="34.8"/><rect x="98.8" y="455.7" width="1.05" height="33.8"/><rect x="100.0" y="476.6" width="1.05" height="12.9"/><rect x="101.2" y="457.7" width="1.05" height="31.8"/><rect x="102.4" y="478.6" width="1.05" height="10.9"/><rect x="103.6" y="476.1" width="1.05" height="13.4"/><rect x="104.8" y="478.6" width="1.05" height="10.9"/><rect x="106.0" y="477.6" width="1.05" height="11.9"/><rect x="107.2" y="476.0" width="1.05" height="13.5"/><rect x="108.4" y="467.7" width="1.05" height="21.8"/><rect x="109.6" y="481.2" width="1.05" height="8.3"/><rect x="110.8" y="484.5" width="1.05" height="5.0"/><rect x="112.0" y="474.3" width="1.05" height="15.2"/><rect x="113.2" y="483.5" width="1.05" height="6.0"/><rect x="114.4" y="481.6" width="1.05" height="7.9"/><rect x="115.6" y="488.5" width="1.05" height="1.0"/><rect x="116.8" y="483.7" width="1.05" height="5.8"/><rect x="118.0" y="477.1" width="1.05" height="12.4"/><rect x="119.2" y="481.2" width="1.05" height="8.3"/><rect x="120.4" y="486.1" width="1.05" height="3.4"/><rect x="121.6" y="486.1" width="1.05" height="3.4"/><rect x="122.8" y="479.1" width="1.05" height="10.4"/><rect x="124.0" y="483.2" width="1.05" height="6.3"/><rect x="125.2" y="486.1" width="1.05" height="3.4"/><rect x="126.4" y="482.1" width="1.05" height="7.4"/><rect x="127.6" y="479.1" width="1.05" height="10.4"/><rect x="128.8" y="484.5" width="1.05" height="5.0"/><rect x="130.0" y="486.1" width="1.05" height="3.4"/><rect x="131.2" y="482.8" width="1.05" height="6.7"/><rect x="132.4" y="475.7" width="1.05" height="13.8"/><rect x="133.6" y="482.1" width="1.05" height="7.4"/><rect x="134.8" y="485.5" width="1.05" height="4.0"/><rect x="136.0" y="485.8" width="1.05" height="3.7"/><rect x="137.2" y="485.8" width="1.05" height="3.7"/><rect x="138.4" y="484.1" width="1.05" height="5.4"/><rect x="139.6" y="485.9" width="1.05" height="3.6"/><rect x="140.8" y="483.6" width="1.05" height="5.9"/><rect x="142.0" y="484.1" width="1.05" height="5.4"/><rect x="143.2" y="478.3" width="1.05" height="11.2"/><rect x="144.4" y="483.3" width="1.05" height="6.2"/><rect x="145.6" y="486.5" width="1.05" height="3.0"/><rect x="146.8" y="486.0" width="1.05" height="3.5"/><rect x="148.0" y="486.6" width="1.05" height="2.9"/><rect x="149.2" y="485.1" width="1.05" height="4.4"/><rect x="150.4" y="483.2" width="1.05" height="6.3"/><rect x="151.6" y="487.4" width="1.05" height="2.1"/><rect x="152.8" y="485.5" width="1.05" height="4.0"/><rect x="154.0" y="486.7" width="1.05" height="2.8"/><rect x="155.2" y="486.4" width="1.05" height="3.1"/><rect x="156.4" y="485.5" width="1.05" height="4.0"/><rect x="157.6" y="487.2" width="1.05" height="2.3"/><rect x="158.8" y="486.5" width="1.05" height="3.0"/><rect x="160.0" y="486.1" width="1.05" height="3.4"/><rect x="161.2" y="485.5" width="1.05" height="4.0"/><rect x="162.4" y="487.0" width="1.05" height="2.5"/><rect x="163.6" y="487.8" width="1.05" height="1.7"/><rect x="164.8" y="488.1" width="1.05" height="1.4"/><rect x="166.0" y="486.5" width="1.05" height="3.0"/><rect x="167.2" y="486.3" width="1.05" height="3.2"/><rect x="168.4" y="486.8" width="1.05" height="2.7"/><rect x="169.6" y="487.1" width="1.05" height="2.4"/><rect x="170.8" y="486.6" width="1.05" height="2.9"/><rect x="172.0" y="487.4" width="1.05" height="2.1"/><rect x="173.2" y="488.2" width="1.05" height="1.3"/><rect x="174.4" y="487.1" width="1.05" height="2.4"/><rect x="175.6" y="486.8" width="1.05" height="2.7"/><rect x="176.8" y="487.7" width="1.05" height="1.8"/><rect x="178.0" y="488.4" width="1.05" height="1.1"/><rect x="179.2" y="488.2" width="1.05" height="1.3"/><rect x="180.4" y="488.4" width="1.05" height="1.1"/><rect x="181.6" y="488.3" width="1.05" height="1.2"/><rect x="182.8" y="487.8" width="1.05" height="1.7"/><rect x="184.0" y="488.4" width="1.05" height="1.1"/><rect x="185.2" y="487.6" width="1.05" height="1.9"/><rect x="186.4" y="487.2" width="1.05" height="2.3"/><rect x="187.6" y="488.1" width="1.05" height="1.4"/><rect x="188.8" y="488.0" width="1.05" height="1.5"/><rect x="190.0" y="487.0" width="1.05" height="2.5"/><rect x="191.2" y="488.3" width="1.05" height="1.2"/><rect x="192.4" y="488.2" width="1.05" height="1.3"/><rect x="193.6" y="487.7" width="1.05" height="1.8"/><rect x="194.8" y="488.6" width="1.05" height="0.9"/><rect x="196.0" y="488.0" width="1.05" height="1.5"/><rect x="197.2" y="487.1" width="1.05" height="2.4"/><rect x="198.4" y="487.8" width="1.05" height="1.7"/><rect x="199.6" y="487.6" width="1.05" height="1.9"/><rect x="200.8" y="487.3" width="1.05" height="2.2"/><rect x="202.0" y="487.3" width="1.05" height="2.2"/><rect x="203.2" y="488.0" width="1.05" height="1.5"/><rect x="204.4" y="488.5" width="1.05" height="1.0"/><rect x="205.6" y="488.6" width="1.05" height="0.9"/><rect x="206.8" y="488.3" width="1.05" height="1.2"/><rect x="208.0" y="488.2" width="1.05" height="1.3"/><rect x="209.2" y="488.7" width="1.05" height="0.8"/><rect x="210.4" y="488.5" width="1.05" height="1.0"/><rect x="211.6" y="488.6" width="1.05" height="0.9"/><rect x="212.8" y="487.8" width="1.05" height="1.7"/><rect x="214.0" y="488.3" width="1.05" height="1.2"/><rect x="215.2" y="488.1" width="1.05" height="1.4"/><rect x="216.4" y="487.4" width="1.05" height="2.1"/><rect x="217.6" y="488.0" width="1.05" height="1.5"/><rect x="218.8" y="488.6" width="1.05" height="0.9"/><rect x="220.0" y="488.2" width="1.05" height="1.3"/><rect x="221.2" y="487.5" width="1.05" height="2.0"/><rect x="222.4" y="488.6" width="1.05" height="0.9"/><rect x="223.6" y="487.9" width="1.05" height="1.6"/><rect x="224.8" y="487.9" width="1.05" height="1.6"/><rect x="226.0" y="487.9" width="1.05" height="1.6"/><rect x="227.2" y="487.5" width="1.05" height="2.0"/><rect x="228.4" y="488.3" width="1.05" height="1.2"/><rect x="229.6" y="488.5" width="1.05" height="1.0"/><rect x="230.8" y="487.9" width="1.05" height="1.6"/><rect x="232.0" y="488.2" width="1.05" height="1.3"/><rect x="233.2" y="487.5" width="1.05" height="2.0"/><rect x="234.4" y="487.5" width="1.05" height="2.0"/><rect x="235.6" y="487.5" width="1.05" height="2.0"/><rect x="236.8" y="488.4" width="1.05" height="1.1"/><rect x="238.0" y="488.2" width="1.05" height="1.3"/><rect x="239.2" y="488.7" width="1.05" height="0.8"/><rect x="240.4" y="488.3" width="1.05" height="1.2"/><rect x="241.6" y="487.4" width="1.05" height="2.1"/><rect x="242.8" y="487.4" width="1.05" height="2.1"/><rect x="244.0" y="487.4" width="1.05" height="2.1"/><rect x="245.2" y="488.4" width="1.05" height="1.1"/><rect x="246.4" y="488.4" width="1.05" height="1.1"/><rect x="247.6" y="487.8" width="1.05" height="1.7"/><rect x="248.8" y="487.5" width="1.05" height="2.0"/><rect x="250.0" y="487.8" width="1.05" height="1.7"/><rect x="251.2" y="488.6" width="1.05" height="0.9"/><rect x="252.4" y="487.4" width="1.05" height="2.1"/><rect x="253.6" y="487.7" width="1.05" height="1.8"/><rect x="254.8" y="488.5" width="1.05" height="1.0"/><rect x="256.0" y="488.2" width="1.05" height="1.3"/><rect x="257.2" y="487.3" width="1.05" height="2.2"/><rect x="258.4" y="488.1" width="1.05" height="1.4"/><rect x="259.6" y="487.7" width="1.05" height="1.8"/><rect x="260.8" y="488.5" width="1.05" height="1.0"/><rect x="262.0" y="487.4" width="1.05" height="2.1"/><rect x="263.2" y="488.5" width="1.05" height="1.0"/><rect x="264.4" y="487.3" width="1.05" height="2.2"/><rect x="265.6" y="488.2" width="1.05" height="1.3"/><rect x="266.8" y="488.5" width="1.05" height="1.0"/><rect x="268.0" y="487.4" width="1.05" height="2.1"/><rect x="269.2" y="488.0" width="1.05" height="1.5"/><rect x="270.4" y="488.1" width="1.05" height="1.4"/><rect x="271.6" y="487.6" width="1.05" height="1.9"/><rect x="272.8" y="488.4" width="1.05" height="1.1"/><rect x="274.0" y="488.4" width="1.05" height="1.1"/><rect x="275.2" y="488.3" width="1.05" height="1.2"/><rect x="276.4" y="488.5" width="1.05" height="1.0"/><rect x="277.6" y="488.2" width="1.05" height="1.3"/><rect x="278.8" y="487.9" width="1.05" height="1.6"/><rect x="280.0" y="488.1" width="1.05" height="1.4"/><rect x="281.2" y="488.0" width="1.05" height="1.5"/><rect x="282.4" y="488.0" width="1.05" height="1.5"/><rect x="283.6" y="488.1" width="1.05" height="1.4"/><rect x="284.8" y="488.7" width="1.05" height="0.8"/><rect x="286.0" y="488.5" width="1.05" height="1.0"/><rect x="287.2" y="487.7" width="1.05" height="1.8"/><rect x="288.4" y="488.3" width="1.05" height="1.2"/><rect x="289.6" y="487.9" width="1.05" height="1.6"/><rect x="290.8" y="488.6" width="1.05" height="0.9"/><rect x="292.0" y="488.4" width="1.05" height="1.1"/><rect x="293.2" y="487.6" width="1.05" height="1.9"/><rect x="294.4" y="487.9" width="1.05" height="1.6"/><rect x="295.6" y="487.4" width="1.05" height="2.1"/><rect x="296.8" y="487.9" width="1.05" height="1.6"/><rect x="298.0" y="488.0" width="1.05" height="1.5"/><rect x="299.2" y="488.1" width="1.05" height="1.4"/><rect x="300.4" y="488.0" width="1.05" height="1.5"/><rect x="301.6" y="487.7" width="1.05" height="1.8"/><rect x="302.8" y="487.4" width="1.05" height="2.1"/><rect x="304.0" y="487.9" width="1.05" height="1.6"/><rect x="305.2" y="487.5" width="1.05" height="2.0"/><rect x="306.4" y="488.5" width="1.05" height="1.0"/><rect x="307.6" y="488.6" width="1.05" height="0.9"/><rect x="308.8" y="488.6" width="1.05" height="0.9"/><rect x="310.0" y="487.6" width="1.05" height="1.9"/><rect x="311.2" y="488.5" width="1.05" height="1.0"/><rect x="312.4" y="487.8" width="1.05" height="1.7"/><rect x="313.6" y="487.5" width="1.05" height="2.0"/><rect x="314.8" y="488.4" width="1.05" height="1.1"/><rect x="316.0" y="488.2" width="1.05" height="1.3"/><rect x="317.2" y="487.3" width="1.05" height="2.2"/><rect x="318.4" y="488.5" width="1.05" height="1.0"/><rect x="319.6" y="488.0" width="1.05" height="1.5"/><rect x="320.8" y="488.4" width="1.05" height="1.1"/><rect x="322.0" y="487.7" width="1.05" height="1.8"/><rect x="323.2" y="487.9" width="1.05" height="1.6"/><rect x="324.4" y="488.7" width="1.05" height="0.8"/><rect x="325.6" y="487.8" width="1.05" height="1.7"/><rect x="326.8" y="488.6" width="1.05" height="0.9"/><rect x="328.0" y="487.6" width="1.05" height="1.9"/><rect x="329.2" y="488.6" width="1.05" height="0.9"/><rect x="330.4" y="488.7" width="1.05" height="0.8"/><rect x="331.6" y="488.3" width="1.05" height="1.2"/><rect x="332.8" y="488.1" width="1.05" height="1.4"/><rect x="334.0" y="487.6" width="1.05" height="1.9"/><rect x="335.2" y="488.5" width="1.05" height="1.0"/><rect x="336.4" y="487.9" width="1.05" height="1.6"/><rect x="337.6" y="488.6" width="1.05" height="0.9"/><rect x="338.8" y="487.7" width="1.05" height="1.8"/><rect x="340.0" y="488.6" width="1.05" height="0.9"/><rect x="341.2" y="487.8" width="1.05" height="1.7"/><rect x="342.4" y="488.6" width="1.05" height="0.9"/><rect x="343.6" y="488.6" width="1.05" height="0.9"/><rect x="344.8" y="488.1" width="1.05" height="1.4"/><rect x="346.0" y="487.9" width="1.05" height="1.6"/><rect x="347.2" y="488.3" width="1.05" height="1.2"/><rect x="348.4" y="488.0" width="1.05" height="1.5"/><rect x="349.6" y="488.6" width="1.05" height="0.9"/><rect x="350.8" y="488.6" width="1.05" height="0.9"/><rect x="352.0" y="488.3" width="1.05" height="1.2"/><rect x="353.2" y="487.6" width="1.05" height="1.9"/><rect x="354.4" y="488.0" width="1.05" height="1.5"/><rect x="355.6" y="488.2" width="1.05" height="1.3"/><rect x="356.8" y="488.4" width="1.05" height="1.1"/><rect x="358.0" y="487.7" width="1.05" height="1.8"/><rect x="359.2" y="488.4" width="1.05" height="1.1"/><rect x="360.4" y="487.4" width="1.05" height="2.1"/><rect x="361.6" y="487.6" width="1.05" height="1.9"/><rect x="362.8" y="488.0" width="1.05" height="1.5"/><rect x="364.0" y="488.2" width="1.05" height="1.3"/><rect x="365.2" y="487.7" width="1.05" height="1.8"/><rect x="366.4" y="488.2" width="1.05" height="1.3"/><rect x="367.6" y="487.7" width="1.05" height="1.8"/><rect x="368.8" y="488.1" width="1.05" height="1.4"/><rect x="370.0" y="488.6" width="1.05" height="0.9"/><rect x="371.2" y="488.6" width="1.05" height="0.9"/><rect x="372.4" y="488.4" width="1.05" height="1.1"/><rect x="373.6" y="488.6" width="1.05" height="0.9"/><rect x="374.8" y="487.5" width="1.05" height="2.0"/><rect x="376.0" y="488.3" width="1.05" height="1.2"/><rect x="377.2" y="488.3" width="1.05" height="1.2"/><rect x="378.4" y="488.5" width="1.05" height="1.0"/><rect x="379.6" y="488.3" width="1.05" height="1.2"/><rect x="380.8" y="487.4" width="1.05" height="2.1"/><rect x="382.0" y="488.4" width="1.05" height="1.1"/><rect x="383.2" y="488.3" width="1.05" height="1.2"/><rect x="384.4" y="488.7" width="1.05" height="0.8"/><rect x="385.6" y="488.0" width="1.05" height="1.5"/><rect x="386.8" y="488.4" width="1.05" height="1.1"/><rect x="388.0" y="488.7" width="1.05" height="0.8"/><rect x="389.2" y="488.6" width="1.05" height="0.9"/><rect x="390.4" y="488.6" width="1.05" height="0.9"/><rect x="391.6" y="488.3" width="1.05" height="1.2"/><rect x="392.8" y="487.9" width="1.05" height="1.6"/><rect x="394.0" y="487.7" width="1.05" height="1.8"/><rect x="395.2" y="487.7" width="1.05" height="1.8"/><rect x="396.4" y="488.2" width="1.05" height="1.3"/><rect x="397.6" y="487.3" width="1.05" height="2.2"/><rect x="398.8" y="487.7" width="1.05" height="1.8"/><rect x="400.0" y="488.6" width="1.05" height="0.9"/></g>
<g stroke="#707070" stroke-width="1.3" fill="none">
<path d="M80.2 420.3 V489.7 H419.6"/>
<path d="M74 420.3H80.2 M74 430.3H80.2 M74 440.2H80.2 M74 450.1H80.2 M74 460.1H80.2 M74 470H80.2 M74 480H80.2"/>
<path d="M136.3 489.7V496.7 M193 489.7V496.7 M249.7 489.7V496.7 M306.4 489.7V496.7 M363 489.7V496.7 M419.6 489.7V496.7"/>
</g>
</svg>
</body></html>
